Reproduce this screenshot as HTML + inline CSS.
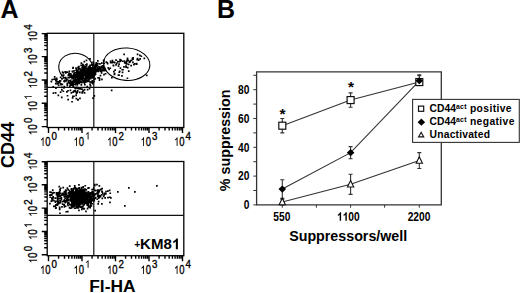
<!DOCTYPE html>
<html><head><meta charset="utf-8"><style>
html,body{margin:0;padding:0;background:#fff;width:520px;height:293px;overflow:hidden}
svg{display:block}
text{font-family:"Liberation Sans", sans-serif;fill:#000}
</style></head><body>
<svg width="520" height="293" viewBox="0 0 520 293">
<rect x="47.2" y="33.3" width="136.60" height="94.20" fill="none" stroke="#000" stroke-width="1.3"/>
<line x1="93.8" y1="33.3" x2="93.8" y2="127.5" stroke="#111" stroke-width="1.2"/>
<line x1="47.2" y1="87.4" x2="183.8" y2="87.4" stroke="#111" stroke-width="1.2"/>
<path d="M48.50 127.5v5.5 M47.2 126.60h-5.5 M58.58 127.5v3.0 M47.2 119.58h-3.0 M64.48 127.5v3.0 M47.2 115.47h-3.0 M68.67 127.5v3.0 M47.2 112.56h-3.0 M71.92 127.5v3.0 M47.2 110.30h-3.0 M74.57 127.5v3.0 M47.2 108.45h-3.0 M76.81 127.5v3.0 M47.2 106.89h-3.0 M78.75 127.5v3.0 M47.2 105.54h-3.0 M80.47 127.5v3.0 M47.2 104.34h-3.0 M82.00 127.5v5.5 M47.2 103.27h-5.5 M92.08 127.5v3.0 M47.2 96.25h-3.0 M97.98 127.5v3.0 M47.2 92.15h-3.0 M102.17 127.5v3.0 M47.2 89.23h-3.0 M105.42 127.5v3.0 M47.2 86.97h-3.0 M108.07 127.5v3.0 M47.2 85.12h-3.0 M110.31 127.5v3.0 M47.2 83.56h-3.0 M112.25 127.5v3.0 M47.2 82.21h-3.0 M113.97 127.5v3.0 M47.2 81.02h-3.0 M115.50 127.5v5.5 M47.2 79.95h-5.5 M125.58 127.5v3.0 M47.2 72.93h-3.0 M131.48 127.5v3.0 M47.2 68.82h-3.0 M135.67 127.5v3.0 M47.2 65.91h-3.0 M138.92 127.5v3.0 M47.2 63.65h-3.0 M141.57 127.5v3.0 M47.2 61.80h-3.0 M143.81 127.5v3.0 M47.2 60.24h-3.0 M145.75 127.5v3.0 M47.2 58.89h-3.0 M147.47 127.5v3.0 M47.2 57.69h-3.0 M149.00 127.5v5.5 M47.2 56.62h-5.5 M159.08 127.5v3.0 M47.2 49.60h-3.0 M164.98 127.5v3.0 M47.2 45.50h-3.0 M169.17 127.5v3.0 M47.2 42.58h-3.0 M172.42 127.5v3.0 M47.2 40.32h-3.0 M175.07 127.5v3.0 M47.2 38.47h-3.0 M177.31 127.5v3.0 M47.2 36.91h-3.0 M179.25 127.5v3.0 M47.2 35.56h-3.0 M180.97 127.5v3.0 M47.2 34.37h-3.0 M182.5 127.5v5.5 M47.2 33.599999999999994h-5.5" stroke="#000" stroke-width="1.4" fill="none"/>
<path d="M85.4 74.9h1.7v1.7h-1.7zM82.1 69.9h1.7v1.7h-1.7zM80.9 69.8h1.7v1.7h-1.7zM87.3 79.5h1.7v1.7h-1.7zM81.2 71.6h1.7v1.7h-1.7zM88.4 74.2h1.7v1.7h-1.7zM84.3 69.0h1.7v1.7h-1.7zM85.8 76.7h1.7v1.7h-1.7zM76.4 73.9h1.7v1.7h-1.7zM71.9 71.1h1.7v1.7h-1.7zM73.8 75.8h1.7v1.7h-1.7zM77.9 77.1h1.7v1.7h-1.7zM85.7 72.4h1.7v1.7h-1.7zM69.3 75.6h1.7v1.7h-1.7zM84.9 74.1h1.7v1.7h-1.7zM75.3 74.1h1.7v1.7h-1.7zM78.1 71.6h1.7v1.7h-1.7zM90.1 67.9h1.7v1.7h-1.7zM86.1 77.6h1.7v1.7h-1.7zM81.4 74.1h1.7v1.7h-1.7zM85.7 73.6h1.7v1.7h-1.7zM77.9 76.1h1.7v1.7h-1.7zM90.9 63.9h1.7v1.7h-1.7zM90.3 72.5h1.7v1.7h-1.7zM84.0 83.8h1.7v1.7h-1.7zM87.8 66.6h1.7v1.7h-1.7zM86.3 76.0h1.7v1.7h-1.7zM84.9 77.0h1.7v1.7h-1.7zM85.6 76.7h1.7v1.7h-1.7zM92.6 67.8h1.7v1.7h-1.7zM85.5 71.0h1.7v1.7h-1.7zM84.1 67.8h1.7v1.7h-1.7zM81.3 73.7h1.7v1.7h-1.7zM91.9 77.1h1.7v1.7h-1.7zM76.0 72.3h1.7v1.7h-1.7zM86.0 63.2h1.7v1.7h-1.7zM82.1 73.9h1.7v1.7h-1.7zM93.4 74.4h1.7v1.7h-1.7zM82.5 72.4h1.7v1.7h-1.7zM85.7 80.9h1.7v1.7h-1.7zM82.0 72.9h1.7v1.7h-1.7zM86.9 72.3h1.7v1.7h-1.7zM82.3 68.8h1.7v1.7h-1.7zM84.3 71.5h1.7v1.7h-1.7zM92.8 74.4h1.7v1.7h-1.7zM85.8 76.6h1.7v1.7h-1.7zM84.5 78.9h1.7v1.7h-1.7zM85.8 76.2h1.7v1.7h-1.7zM77.8 77.5h1.7v1.7h-1.7zM72.1 67.3h1.7v1.7h-1.7zM81.9 69.9h1.7v1.7h-1.7zM89.2 83.5h1.7v1.7h-1.7zM79.2 72.2h1.7v1.7h-1.7zM86.9 75.4h1.7v1.7h-1.7zM83.7 72.9h1.7v1.7h-1.7zM89.9 74.6h1.7v1.7h-1.7zM78.8 75.0h1.7v1.7h-1.7zM83.7 68.6h1.7v1.7h-1.7zM85.3 69.1h1.7v1.7h-1.7zM91.0 72.6h1.7v1.7h-1.7zM84.7 70.6h1.7v1.7h-1.7zM81.5 64.6h1.7v1.7h-1.7zM78.8 77.2h1.7v1.7h-1.7zM73.6 81.3h1.7v1.7h-1.7zM75.7 80.2h1.7v1.7h-1.7zM81.1 78.6h1.7v1.7h-1.7zM83.6 66.2h1.7v1.7h-1.7zM94.4 77.8h1.7v1.7h-1.7zM84.2 72.4h1.7v1.7h-1.7zM82.7 69.3h1.7v1.7h-1.7zM90.7 69.0h1.7v1.7h-1.7zM83.6 70.0h1.7v1.7h-1.7zM79.5 68.8h1.7v1.7h-1.7zM92.2 70.5h1.7v1.7h-1.7zM90.7 71.8h1.7v1.7h-1.7zM80.4 73.3h1.7v1.7h-1.7zM81.7 74.6h1.7v1.7h-1.7zM82.4 72.8h1.7v1.7h-1.7zM75.7 72.3h1.7v1.7h-1.7zM93.8 67.4h1.7v1.7h-1.7zM79.2 77.0h1.7v1.7h-1.7zM91.3 64.3h1.7v1.7h-1.7zM82.9 71.0h1.7v1.7h-1.7zM75.6 80.1h1.7v1.7h-1.7zM85.0 73.9h1.7v1.7h-1.7zM81.2 77.0h1.7v1.7h-1.7zM81.6 73.8h1.7v1.7h-1.7zM76.7 70.0h1.7v1.7h-1.7zM92.2 68.7h1.7v1.7h-1.7zM86.7 72.8h1.7v1.7h-1.7zM81.7 72.0h1.7v1.7h-1.7zM88.3 71.0h1.7v1.7h-1.7zM84.1 73.9h1.7v1.7h-1.7zM92.9 74.5h1.7v1.7h-1.7zM86.5 70.2h1.7v1.7h-1.7zM78.2 80.4h1.7v1.7h-1.7zM90.5 71.1h1.7v1.7h-1.7zM89.3 76.1h1.7v1.7h-1.7zM91.2 76.2h1.7v1.7h-1.7zM84.5 81.3h1.7v1.7h-1.7zM78.8 79.7h1.7v1.7h-1.7zM89.2 76.6h1.7v1.7h-1.7zM98.2 76.9h1.7v1.7h-1.7zM75.8 67.9h1.7v1.7h-1.7zM88.4 67.3h1.7v1.7h-1.7zM86.1 77.4h1.7v1.7h-1.7zM72.3 66.8h1.7v1.7h-1.7zM86.6 73.2h1.7v1.7h-1.7zM83.6 74.1h1.7v1.7h-1.7zM77.8 68.1h1.7v1.7h-1.7zM82.6 69.3h1.7v1.7h-1.7zM76.0 78.8h1.7v1.7h-1.7zM85.2 75.5h1.7v1.7h-1.7zM78.2 72.3h1.7v1.7h-1.7zM77.8 71.3h1.7v1.7h-1.7zM85.0 69.6h1.7v1.7h-1.7zM87.6 74.4h1.7v1.7h-1.7zM95.0 63.4h1.7v1.7h-1.7zM90.1 71.5h1.7v1.7h-1.7zM82.9 66.9h1.7v1.7h-1.7zM83.3 77.8h1.7v1.7h-1.7zM84.6 74.0h1.7v1.7h-1.7zM84.9 79.3h1.7v1.7h-1.7zM81.8 63.4h1.7v1.7h-1.7zM78.1 65.7h1.7v1.7h-1.7zM65.0 77.0h1.7v1.7h-1.7zM93.0 71.3h1.7v1.7h-1.7zM76.7 71.3h1.7v1.7h-1.7zM91.9 72.2h1.7v1.7h-1.7zM85.2 73.2h1.7v1.7h-1.7zM86.4 77.1h1.7v1.7h-1.7zM88.6 73.5h1.7v1.7h-1.7zM79.5 77.8h1.7v1.7h-1.7zM82.5 79.8h1.7v1.7h-1.7zM77.3 75.2h1.7v1.7h-1.7zM83.1 67.4h1.7v1.7h-1.7zM97.3 77.0h1.7v1.7h-1.7zM83.3 77.9h1.7v1.7h-1.7zM83.5 60.8h1.7v1.7h-1.7zM86.4 72.8h1.7v1.7h-1.7zM84.0 68.4h1.7v1.7h-1.7zM83.2 73.2h1.7v1.7h-1.7zM92.5 72.9h1.7v1.7h-1.7zM87.1 80.5h1.7v1.7h-1.7zM81.2 72.7h1.7v1.7h-1.7zM76.5 84.0h1.7v1.7h-1.7zM92.0 75.9h1.7v1.7h-1.7zM89.1 72.8h1.7v1.7h-1.7zM85.9 71.9h1.7v1.7h-1.7zM83.9 74.1h1.7v1.7h-1.7zM94.7 73.3h1.7v1.7h-1.7zM83.8 71.0h1.7v1.7h-1.7zM83.5 82.0h1.7v1.7h-1.7zM88.1 72.9h1.7v1.7h-1.7zM81.4 69.0h1.7v1.7h-1.7zM85.8 77.6h1.7v1.7h-1.7zM82.4 73.2h1.7v1.7h-1.7zM83.8 74.4h1.7v1.7h-1.7zM75.2 75.3h1.7v1.7h-1.7zM81.2 79.1h1.7v1.7h-1.7zM81.3 77.6h1.7v1.7h-1.7zM93.6 69.3h1.7v1.7h-1.7zM81.7 75.5h1.7v1.7h-1.7zM83.6 68.9h1.7v1.7h-1.7zM90.6 81.9h1.7v1.7h-1.7zM83.2 73.0h1.7v1.7h-1.7zM79.3 76.9h1.7v1.7h-1.7zM76.0 70.7h1.7v1.7h-1.7zM91.3 67.0h1.7v1.7h-1.7zM93.6 78.5h1.7v1.7h-1.7zM87.3 75.6h1.7v1.7h-1.7zM96.3 69.0h1.7v1.7h-1.7zM79.6 68.4h1.7v1.7h-1.7zM87.3 80.2h1.7v1.7h-1.7zM89.3 67.4h1.7v1.7h-1.7zM79.2 72.8h1.7v1.7h-1.7zM86.4 72.0h1.7v1.7h-1.7zM86.7 74.5h1.7v1.7h-1.7zM83.2 73.9h1.7v1.7h-1.7zM86.1 72.7h1.7v1.7h-1.7zM90.6 81.2h1.7v1.7h-1.7zM88.6 72.7h1.7v1.7h-1.7zM75.6 78.4h1.7v1.7h-1.7zM71.5 70.6h1.7v1.7h-1.7zM91.1 75.2h1.7v1.7h-1.7zM81.7 65.9h1.7v1.7h-1.7zM81.8 71.1h1.7v1.7h-1.7zM92.0 82.7h1.7v1.7h-1.7zM85.2 69.5h1.7v1.7h-1.7zM78.0 75.4h1.7v1.7h-1.7zM82.3 68.5h1.7v1.7h-1.7zM84.1 68.0h1.7v1.7h-1.7zM93.1 76.3h1.7v1.7h-1.7zM90.8 69.3h1.7v1.7h-1.7zM87.9 72.0h1.7v1.7h-1.7zM82.2 72.7h1.7v1.7h-1.7zM75.3 69.3h1.7v1.7h-1.7zM89.4 71.2h1.7v1.7h-1.7zM87.7 77.7h1.7v1.7h-1.7zM73.6 73.1h1.7v1.7h-1.7zM86.6 75.0h1.7v1.7h-1.7zM84.2 78.9h1.7v1.7h-1.7zM84.5 67.6h1.7v1.7h-1.7zM80.6 78.9h1.7v1.7h-1.7zM85.1 63.9h1.7v1.7h-1.7zM93.8 73.8h1.7v1.7h-1.7zM92.4 69.3h1.7v1.7h-1.7zM81.7 68.9h1.7v1.7h-1.7zM99.8 68.0h1.7v1.7h-1.7zM93.5 67.6h1.7v1.7h-1.7zM83.6 65.5h1.7v1.7h-1.7zM84.1 78.7h1.7v1.7h-1.7zM79.1 80.7h1.7v1.7h-1.7zM85.5 68.1h1.7v1.7h-1.7zM81.4 72.3h1.7v1.7h-1.7zM83.9 71.1h1.7v1.7h-1.7zM79.7 73.6h1.7v1.7h-1.7zM77.1 69.5h1.7v1.7h-1.7zM86.0 77.6h1.7v1.7h-1.7zM75.9 76.3h1.7v1.7h-1.7zM79.8 70.2h1.7v1.7h-1.7zM89.3 69.6h1.7v1.7h-1.7zM92.8 67.2h1.7v1.7h-1.7zM87.0 71.7h1.7v1.7h-1.7zM81.4 77.6h1.7v1.7h-1.7zM84.9 76.6h1.7v1.7h-1.7zM83.2 68.6h1.7v1.7h-1.7zM84.5 73.9h1.7v1.7h-1.7zM89.4 67.6h1.7v1.7h-1.7zM82.3 65.7h1.7v1.7h-1.7zM87.3 67.3h1.7v1.7h-1.7zM74.2 76.5h1.7v1.7h-1.7zM89.4 64.5h1.7v1.7h-1.7zM77.5 72.1h1.7v1.7h-1.7zM78.8 77.3h1.7v1.7h-1.7zM79.2 71.7h1.7v1.7h-1.7zM87.4 69.0h1.7v1.7h-1.7zM86.2 68.3h1.7v1.7h-1.7zM75.2 67.3h1.7v1.7h-1.7zM95.6 68.6h1.7v1.7h-1.7zM86.4 72.9h1.7v1.7h-1.7zM86.0 73.4h1.7v1.7h-1.7zM94.8 65.2h1.7v1.7h-1.7zM74.3 71.7h1.7v1.7h-1.7zM78.2 79.4h1.7v1.7h-1.7zM88.5 67.6h1.7v1.7h-1.7zM76.3 74.4h1.7v1.7h-1.7zM89.2 58.0h1.7v1.7h-1.7zM86.6 67.6h1.7v1.7h-1.7zM89.6 66.7h1.7v1.7h-1.7zM81.2 67.1h1.7v1.7h-1.7zM81.2 81.6h1.7v1.7h-1.7zM89.3 70.2h1.7v1.7h-1.7zM77.2 66.4h1.7v1.7h-1.7zM82.6 74.1h1.7v1.7h-1.7zM84.4 73.2h1.7v1.7h-1.7zM78.3 75.3h1.7v1.7h-1.7zM86.6 79.5h1.7v1.7h-1.7zM95.9 69.5h1.7v1.7h-1.7zM80.4 74.6h1.7v1.7h-1.7zM80.3 71.2h1.7v1.7h-1.7zM83.2 68.8h1.7v1.7h-1.7zM88.4 71.9h1.7v1.7h-1.7zM86.2 72.2h1.7v1.7h-1.7zM79.3 70.5h1.7v1.7h-1.7zM82.8 71.4h1.7v1.7h-1.7zM86.4 73.1h1.7v1.7h-1.7zM77.0 76.3h1.7v1.7h-1.7zM76.2 73.1h1.7v1.7h-1.7zM80.3 64.5h1.7v1.7h-1.7zM85.8 74.0h1.7v1.7h-1.7zM83.5 71.8h1.7v1.7h-1.7zM81.4 69.7h1.7v1.7h-1.7zM82.6 71.5h1.7v1.7h-1.7zM83.8 67.8h1.7v1.7h-1.7zM86.6 73.7h1.7v1.7h-1.7zM83.5 71.7h1.7v1.7h-1.7zM85.9 64.9h1.7v1.7h-1.7zM88.1 73.8h1.7v1.7h-1.7zM87.2 74.7h1.7v1.7h-1.7zM80.8 73.5h1.7v1.7h-1.7zM89.4 74.3h1.7v1.7h-1.7zM84.1 66.2h1.7v1.7h-1.7zM89.8 77.9h1.7v1.7h-1.7zM91.3 72.7h1.7v1.7h-1.7zM77.1 80.7h1.7v1.7h-1.7zM80.5 62.2h1.7v1.7h-1.7zM85.1 66.0h1.7v1.7h-1.7zM76.4 73.0h1.7v1.7h-1.7zM92.0 69.5h1.7v1.7h-1.7zM89.1 81.0h1.7v1.7h-1.7zM94.3 70.1h1.7v1.7h-1.7zM81.8 68.2h1.7v1.7h-1.7zM81.5 76.7h1.7v1.7h-1.7zM87.5 73.3h1.7v1.7h-1.7zM89.8 68.1h1.7v1.7h-1.7zM85.7 77.0h1.7v1.7h-1.7zM90.0 77.3h1.7v1.7h-1.7zM86.9 71.4h1.7v1.7h-1.7zM85.7 68.2h1.7v1.7h-1.7zM76.1 79.2h1.7v1.7h-1.7zM85.1 75.0h1.7v1.7h-1.7zM74.4 74.9h1.7v1.7h-1.7zM80.2 70.6h1.7v1.7h-1.7zM71.2 76.1h1.7v1.7h-1.7zM90.9 73.6h1.7v1.7h-1.7zM81.4 74.5h1.7v1.7h-1.7zM85.6 59.5h1.7v1.7h-1.7zM85.0 76.2h1.7v1.7h-1.7zM91.5 80.0h1.7v1.7h-1.7zM92.2 72.9h1.7v1.7h-1.7zM87.9 76.6h1.7v1.7h-1.7zM81.7 74.3h1.7v1.7h-1.7zM93.1 80.8h1.7v1.7h-1.7zM84.0 73.6h1.7v1.7h-1.7zM88.1 79.3h1.7v1.7h-1.7zM86.9 80.3h1.7v1.7h-1.7zM79.0 74.4h1.7v1.7h-1.7zM84.9 77.5h1.7v1.7h-1.7zM89.1 64.7h1.7v1.7h-1.7zM80.1 76.7h1.7v1.7h-1.7zM78.9 67.7h1.7v1.7h-1.7zM91.9 73.9h1.7v1.7h-1.7zM87.2 70.4h1.7v1.7h-1.7zM90.8 70.5h1.7v1.7h-1.7zM90.2 67.3h1.7v1.7h-1.7zM80.2 76.0h1.7v1.7h-1.7zM81.8 77.9h1.7v1.7h-1.7zM85.2 68.8h1.7v1.7h-1.7zM84.9 71.8h1.7v1.7h-1.7zM89.5 68.9h1.7v1.7h-1.7zM84.1 79.9h1.7v1.7h-1.7zM101.1 78.6h1.7v1.7h-1.7zM85.7 74.4h1.7v1.7h-1.7zM93.9 70.1h1.7v1.7h-1.7zM79.4 75.8h1.7v1.7h-1.7zM86.5 68.9h1.7v1.7h-1.7zM73.2 69.9h1.7v1.7h-1.7zM87.9 68.8h1.7v1.7h-1.7zM84.5 74.7h1.7v1.7h-1.7zM88.2 70.8h1.7v1.7h-1.7zM86.7 68.5h1.7v1.7h-1.7zM81.4 69.5h1.7v1.7h-1.7zM91.7 71.3h1.7v1.7h-1.7zM80.1 73.2h1.7v1.7h-1.7zM84.7 77.1h1.7v1.7h-1.7zM74.1 71.7h1.7v1.7h-1.7zM86.4 85.8h1.7v1.7h-1.7zM90.5 71.2h1.7v1.7h-1.7zM92.1 81.6h1.7v1.7h-1.7zM83.1 72.2h1.7v1.7h-1.7zM92.9 73.5h1.7v1.7h-1.7zM88.3 69.9h1.7v1.7h-1.7zM98.8 77.8h1.7v1.7h-1.7zM89.3 75.6h1.7v1.7h-1.7zM73.9 80.1h1.7v1.7h-1.7zM84.5 75.8h1.7v1.7h-1.7zM88.6 70.7h1.7v1.7h-1.7zM75.5 78.3h1.7v1.7h-1.7zM80.1 73.3h1.7v1.7h-1.7zM80.9 73.0h1.7v1.7h-1.7zM73.0 83.3h1.7v1.7h-1.7zM88.1 78.1h1.7v1.7h-1.7zM96.8 70.0h1.7v1.7h-1.7zM73.1 72.7h1.7v1.7h-1.7zM77.1 73.4h1.7v1.7h-1.7zM82.6 64.2h1.7v1.7h-1.7zM84.9 65.9h1.7v1.7h-1.7zM86.6 72.5h1.7v1.7h-1.7zM83.0 73.7h1.7v1.7h-1.7zM80.9 71.7h1.7v1.7h-1.7zM75.0 76.4h1.7v1.7h-1.7zM98.7 79.2h1.7v1.7h-1.7zM93.8 74.3h1.7v1.7h-1.7zM83.0 81.4h1.7v1.7h-1.7zM84.6 73.3h1.7v1.7h-1.7zM83.4 74.5h1.7v1.7h-1.7zM82.3 73.9h1.7v1.7h-1.7zM78.0 73.8h1.7v1.7h-1.7zM98.4 69.0h1.7v1.7h-1.7zM70.2 82.7h1.7v1.7h-1.7zM77.6 74.1h1.7v1.7h-1.7zM70.8 84.4h1.7v1.7h-1.7zM74.5 80.2h1.7v1.7h-1.7zM85.4 74.9h1.7v1.7h-1.7zM72.4 77.6h1.7v1.7h-1.7zM83.9 69.3h1.7v1.7h-1.7zM65.7 78.5h1.7v1.7h-1.7zM78.3 81.8h1.7v1.7h-1.7zM83.4 71.1h1.7v1.7h-1.7zM78.5 77.7h1.7v1.7h-1.7zM66.4 83.3h1.7v1.7h-1.7zM62.4 72.0h1.7v1.7h-1.7zM67.7 73.8h1.7v1.7h-1.7zM66.5 82.5h1.7v1.7h-1.7zM75.8 86.6h1.7v1.7h-1.7zM69.2 73.4h1.7v1.7h-1.7zM64.7 76.9h1.7v1.7h-1.7zM61.5 83.6h1.7v1.7h-1.7zM64.9 72.1h1.7v1.7h-1.7zM78.1 78.6h1.7v1.7h-1.7zM75.2 80.0h1.7v1.7h-1.7zM77.6 79.3h1.7v1.7h-1.7zM83.3 80.2h1.7v1.7h-1.7zM75.8 81.3h1.7v1.7h-1.7zM58.9 81.2h1.7v1.7h-1.7zM69.8 81.3h1.7v1.7h-1.7zM61.0 89.1h1.7v1.7h-1.7zM72.1 74.5h1.7v1.7h-1.7zM56.6 81.0h1.7v1.7h-1.7zM70.7 76.9h1.7v1.7h-1.7zM72.4 77.0h1.7v1.7h-1.7zM76.4 76.0h1.7v1.7h-1.7zM72.3 84.4h1.7v1.7h-1.7zM94.2 72.1h1.7v1.7h-1.7zM67.3 76.9h1.7v1.7h-1.7zM78.2 73.8h1.7v1.7h-1.7zM67.7 80.5h1.7v1.7h-1.7zM62.6 77.1h1.7v1.7h-1.7zM66.4 71.3h1.7v1.7h-1.7zM58.9 80.1h1.7v1.7h-1.7zM73.2 79.0h1.7v1.7h-1.7zM55.9 80.3h1.7v1.7h-1.7zM79.5 81.4h1.7v1.7h-1.7zM70.7 76.2h1.7v1.7h-1.7zM77.2 76.6h1.7v1.7h-1.7zM61.1 78.0h1.7v1.7h-1.7zM85.0 79.0h1.7v1.7h-1.7zM82.0 76.3h1.7v1.7h-1.7zM79.9 76.1h1.7v1.7h-1.7zM72.3 91.3h1.7v1.7h-1.7zM78.5 76.7h1.7v1.7h-1.7zM71.5 81.6h1.7v1.7h-1.7zM82.4 76.2h1.7v1.7h-1.7zM56.3 81.1h1.7v1.7h-1.7zM72.2 80.5h1.7v1.7h-1.7zM83.9 79.6h1.7v1.7h-1.7zM78.5 74.0h1.7v1.7h-1.7zM81.1 88.2h1.7v1.7h-1.7zM79.0 80.1h1.7v1.7h-1.7zM74.6 87.7h1.7v1.7h-1.7zM63.7 80.8h1.7v1.7h-1.7zM76.6 82.7h1.7v1.7h-1.7zM68.3 82.0h1.7v1.7h-1.7zM69.6 80.9h1.7v1.7h-1.7zM70.1 75.1h1.7v1.7h-1.7zM72.4 83.9h1.7v1.7h-1.7zM63.2 80.2h1.7v1.7h-1.7zM77.2 74.3h1.7v1.7h-1.7zM72.9 75.0h1.7v1.7h-1.7zM83.7 88.8h1.7v1.7h-1.7zM89.8 76.3h1.7v1.7h-1.7zM78.7 79.5h1.7v1.7h-1.7zM73.9 86.7h1.7v1.7h-1.7zM61.0 86.5h1.7v1.7h-1.7zM72.5 86.3h1.7v1.7h-1.7zM73.2 76.8h1.7v1.7h-1.7zM75.0 82.9h1.7v1.7h-1.7zM72.6 82.1h1.7v1.7h-1.7zM65.9 71.2h1.7v1.7h-1.7zM80.5 81.9h1.7v1.7h-1.7zM73.4 80.1h1.7v1.7h-1.7zM80.9 76.6h1.7v1.7h-1.7zM65.6 80.1h1.7v1.7h-1.7zM81.6 72.2h1.7v1.7h-1.7zM82.2 75.6h1.7v1.7h-1.7zM63.1 87.1h1.7v1.7h-1.7zM70.3 74.3h1.7v1.7h-1.7zM69.4 84.6h1.7v1.7h-1.7zM82.3 76.5h1.7v1.7h-1.7zM76.1 82.6h1.7v1.7h-1.7zM66.5 82.4h1.7v1.7h-1.7zM71.4 77.7h1.7v1.7h-1.7zM67.7 81.0h1.7v1.7h-1.7zM71.9 77.4h1.7v1.7h-1.7zM69.0 85.5h1.7v1.7h-1.7zM74.5 83.7h1.7v1.7h-1.7zM83.1 81.0h1.7v1.7h-1.7zM91.7 73.3h1.7v1.7h-1.7zM79.0 77.5h1.7v1.7h-1.7zM89.7 85.1h1.7v1.7h-1.7zM54.0 78.3h1.7v1.7h-1.7zM78.4 82.6h1.7v1.7h-1.7zM78.5 78.7h1.7v1.7h-1.7zM76.5 82.3h1.7v1.7h-1.7zM72.0 84.7h1.7v1.7h-1.7zM52.3 85.9h1.7v1.7h-1.7zM63.4 85.7h1.7v1.7h-1.7zM69.4 76.4h1.7v1.7h-1.7zM74.7 75.4h1.7v1.7h-1.7zM62.8 74.3h1.7v1.7h-1.7zM72.1 82.2h1.7v1.7h-1.7zM81.0 78.0h1.7v1.7h-1.7zM81.3 78.7h1.7v1.7h-1.7zM71.6 82.7h1.7v1.7h-1.7zM81.2 77.1h1.7v1.7h-1.7zM69.7 79.6h1.7v1.7h-1.7zM72.1 75.9h1.7v1.7h-1.7zM80.9 76.8h1.7v1.7h-1.7zM75.6 75.7h1.7v1.7h-1.7zM75.5 81.3h1.7v1.7h-1.7zM69.6 89.6h1.7v1.7h-1.7zM76.5 87.4h1.7v1.7h-1.7zM80.1 75.8h1.7v1.7h-1.7zM68.9 82.5h1.7v1.7h-1.7zM72.6 80.1h1.7v1.7h-1.7zM68.2 72.3h1.7v1.7h-1.7zM68.5 70.4h1.7v1.7h-1.7zM74.8 76.3h1.7v1.7h-1.7zM65.5 80.0h1.7v1.7h-1.7zM73.5 73.3h1.7v1.7h-1.7zM55.7 77.6h1.7v1.7h-1.7zM53.2 78.4h1.7v1.7h-1.7zM85.4 73.2h1.7v1.7h-1.7zM76.9 73.0h1.7v1.7h-1.7zM74.4 78.2h1.7v1.7h-1.7zM71.9 82.6h1.7v1.7h-1.7zM87.8 78.5h1.7v1.7h-1.7zM72.5 75.5h1.7v1.7h-1.7zM77.0 78.1h1.7v1.7h-1.7zM79.4 78.7h1.7v1.7h-1.7zM86.2 68.8h1.7v1.7h-1.7zM70.0 84.3h1.7v1.7h-1.7zM68.3 76.9h1.7v1.7h-1.7zM68.7 74.2h1.7v1.7h-1.7zM74.7 90.7h1.7v1.7h-1.7zM81.4 73.5h1.7v1.7h-1.7zM64.0 79.4h1.7v1.7h-1.7zM80.4 75.0h1.7v1.7h-1.7zM66.5 84.9h1.7v1.7h-1.7zM79.4 77.2h1.7v1.7h-1.7zM61.0 74.6h1.7v1.7h-1.7zM64.3 71.0h1.7v1.7h-1.7zM78.2 76.2h1.7v1.7h-1.7zM77.5 87.7h1.7v1.7h-1.7zM81.7 73.3h1.7v1.7h-1.7zM80.5 84.0h1.7v1.7h-1.7zM64.7 76.8h1.7v1.7h-1.7zM69.9 73.0h1.7v1.7h-1.7zM83.5 67.3h1.7v1.7h-1.7zM50.5 80.7h1.7v1.7h-1.7zM54.9 82.8h1.7v1.7h-1.7zM57.4 80.9h1.7v1.7h-1.7zM61.7 71.3h1.7v1.7h-1.7zM56.0 78.4h1.7v1.7h-1.7zM56.7 83.1h1.7v1.7h-1.7zM51.4 78.8h1.7v1.7h-1.7zM60.0 83.7h1.7v1.7h-1.7zM52.6 92.2h1.7v1.7h-1.7zM67.5 74.7h1.7v1.7h-1.7zM57.5 94.5h1.7v1.7h-1.7zM59.9 83.1h1.7v1.7h-1.7zM55.0 79.3h1.7v1.7h-1.7zM54.9 79.2h1.7v1.7h-1.7zM59.7 80.0h1.7v1.7h-1.7zM53.8 76.0h1.7v1.7h-1.7zM55.8 77.5h1.7v1.7h-1.7zM55.1 87.2h1.7v1.7h-1.7zM57.8 84.5h1.7v1.7h-1.7zM57.8 82.3h1.7v1.7h-1.7zM55.4 80.5h1.7v1.7h-1.7zM59.8 76.6h1.7v1.7h-1.7zM102.9 66.4h1.7v1.7h-1.7zM93.4 66.7h1.7v1.7h-1.7zM94.1 68.6h1.7v1.7h-1.7zM94.5 71.5h1.7v1.7h-1.7zM92.2 61.5h1.7v1.7h-1.7zM92.6 62.2h1.7v1.7h-1.7zM97.5 70.6h1.7v1.7h-1.7zM99.1 63.0h1.7v1.7h-1.7zM94.7 73.4h1.7v1.7h-1.7zM98.4 67.2h1.7v1.7h-1.7zM103.1 73.8h1.7v1.7h-1.7zM102.8 66.8h1.7v1.7h-1.7zM98.9 69.0h1.7v1.7h-1.7zM93.7 64.9h1.7v1.7h-1.7zM96.7 64.7h1.7v1.7h-1.7zM96.8 67.8h1.7v1.7h-1.7zM106.8 62.9h1.7v1.7h-1.7zM96.4 67.1h1.7v1.7h-1.7zM99.6 70.2h1.7v1.7h-1.7zM94.3 65.5h1.7v1.7h-1.7zM89.2 66.2h1.7v1.7h-1.7zM99.4 67.2h1.7v1.7h-1.7zM92.3 67.3h1.7v1.7h-1.7zM97.4 69.0h1.7v1.7h-1.7zM94.2 67.3h1.7v1.7h-1.7zM88.3 65.7h1.7v1.7h-1.7zM102.8 59.6h1.7v1.7h-1.7zM95.6 68.4h1.7v1.7h-1.7zM94.9 65.5h1.7v1.7h-1.7zM96.7 67.5h1.7v1.7h-1.7zM95.5 62.1h1.7v1.7h-1.7zM95.8 65.1h1.7v1.7h-1.7zM94.7 68.7h1.7v1.7h-1.7zM100.4 69.6h1.7v1.7h-1.7zM95.4 70.7h1.7v1.7h-1.7zM102.9 69.8h1.7v1.7h-1.7zM103.0 65.8h1.7v1.7h-1.7zM96.7 70.1h1.7v1.7h-1.7zM91.1 69.3h1.7v1.7h-1.7zM94.4 66.9h1.7v1.7h-1.7zM88.8 66.4h1.7v1.7h-1.7zM97.4 70.1h1.7v1.7h-1.7zM101.3 66.4h1.7v1.7h-1.7zM95.7 65.2h1.7v1.7h-1.7zM98.6 66.4h1.7v1.7h-1.7zM100.7 72.1h1.7v1.7h-1.7zM96.0 63.1h1.7v1.7h-1.7zM92.3 64.0h1.7v1.7h-1.7zM92.5 72.4h1.7v1.7h-1.7zM97.1 62.8h1.7v1.7h-1.7zM100.6 70.6h1.7v1.7h-1.7zM95.0 65.8h1.7v1.7h-1.7zM95.7 68.6h1.7v1.7h-1.7zM100.5 70.4h1.7v1.7h-1.7zM103.1 69.9h1.7v1.7h-1.7zM103.4 68.2h1.7v1.7h-1.7zM90.2 68.5h1.7v1.7h-1.7zM98.2 66.1h1.7v1.7h-1.7zM100.8 65.6h1.7v1.7h-1.7zM93.8 72.6h1.7v1.7h-1.7zM100.1 67.5h1.7v1.7h-1.7zM101.7 69.8h1.7v1.7h-1.7zM97.0 60.0h1.7v1.7h-1.7zM93.7 66.8h1.7v1.7h-1.7zM92.8 69.0h1.7v1.7h-1.7zM102.0 65.0h1.7v1.7h-1.7zM93.2 74.5h1.7v1.7h-1.7zM94.3 64.3h1.7v1.7h-1.7zM98.3 68.5h1.7v1.7h-1.7zM94.4 70.5h1.7v1.7h-1.7zM125.1 61.4h1.7v1.7h-1.7zM140.5 55.4h1.7v1.7h-1.7zM102.8 65.3h1.7v1.7h-1.7zM139.3 58.0h1.7v1.7h-1.7zM126.9 66.8h1.7v1.7h-1.7zM133.0 63.7h1.7v1.7h-1.7zM125.7 61.1h1.7v1.7h-1.7zM135.8 62.8h1.7v1.7h-1.7zM111.3 61.7h1.7v1.7h-1.7zM127.3 59.6h1.7v1.7h-1.7zM109.4 67.4h1.7v1.7h-1.7zM119.2 58.7h1.7v1.7h-1.7zM126.1 60.0h1.7v1.7h-1.7zM105.5 61.2h1.7v1.7h-1.7zM100.2 66.8h1.7v1.7h-1.7zM130.3 64.8h1.7v1.7h-1.7zM131.6 57.5h1.7v1.7h-1.7zM125.2 61.7h1.7v1.7h-1.7zM112.0 61.4h1.7v1.7h-1.7zM126.7 57.6h1.7v1.7h-1.7zM103.4 62.5h1.7v1.7h-1.7zM125.1 65.4h1.7v1.7h-1.7zM122.2 68.9h1.7v1.7h-1.7zM125.4 62.9h1.7v1.7h-1.7zM117.0 60.8h1.7v1.7h-1.7zM107.4 67.1h1.7v1.7h-1.7zM130.8 59.5h1.7v1.7h-1.7zM117.7 65.2h1.7v1.7h-1.7zM129.0 61.2h1.7v1.7h-1.7zM112.5 64.6h1.7v1.7h-1.7zM102.1 68.0h1.7v1.7h-1.7zM121.6 60.4h1.7v1.7h-1.7zM123.5 60.2h1.7v1.7h-1.7zM136.7 53.5h1.7v1.7h-1.7zM136.7 57.7h1.7v1.7h-1.7zM101.0 62.2h1.7v1.7h-1.7zM130.6 59.6h1.7v1.7h-1.7zM109.8 61.8h1.7v1.7h-1.7zM128.5 61.0h1.7v1.7h-1.7zM112.7 64.9h1.7v1.7h-1.7zM111.6 59.8h1.7v1.7h-1.7zM119.4 60.2h1.7v1.7h-1.7zM120.3 59.4h1.7v1.7h-1.7zM125.9 63.0h1.7v1.7h-1.7zM125.2 66.4h1.7v1.7h-1.7zM127.8 63.5h1.7v1.7h-1.7zM115.9 62.5h1.7v1.7h-1.7zM125.2 65.3h1.7v1.7h-1.7zM115.2 59.3h1.7v1.7h-1.7zM123.1 66.0h1.7v1.7h-1.7zM118.6 60.9h1.7v1.7h-1.7zM123.3 53.6h1.7v1.7h-1.7zM99.6 74.8h1.7v1.7h-1.7zM119.6 67.2h1.7v1.7h-1.7zM106.4 61.9h1.7v1.7h-1.7zM115.2 64.0h1.7v1.7h-1.7zM100.5 65.7h1.7v1.7h-1.7zM124.0 61.4h1.7v1.7h-1.7zM139.0 54.5h1.7v1.7h-1.7zM113.9 61.8h1.7v1.7h-1.7zM104.2 67.5h1.7v1.7h-1.7zM123.9 62.1h1.7v1.7h-1.7zM104.8 69.5h1.7v1.7h-1.7zM137.8 59.2h1.7v1.7h-1.7zM104.7 72.9h1.7v1.7h-1.7zM113.5 61.6h1.7v1.7h-1.7zM118.2 63.3h1.7v1.7h-1.7zM102.9 60.2h1.7v1.7h-1.7zM109.7 60.4h1.7v1.7h-1.7zM108.3 68.5h1.7v1.7h-1.7zM113.5 73.6h1.7v1.7h-1.7zM121.4 68.9h1.7v1.7h-1.7zM118.9 70.5h1.7v1.7h-1.7zM117.6 74.3h1.7v1.7h-1.7zM127.9 70.3h1.7v1.7h-1.7zM113.8 72.8h1.7v1.7h-1.7zM121.1 75.1h1.7v1.7h-1.7zM145.9 74.5h1.7v1.7h-1.7zM121.7 71.5h1.7v1.7h-1.7zM114.3 69.3h1.7v1.7h-1.7zM113.0 70.8h1.7v1.7h-1.7zM118.2 74.2h1.7v1.7h-1.7zM118.4 71.4h1.7v1.7h-1.7zM111.0 76.9h1.7v1.7h-1.7zM126.6 77.4h1.7v1.7h-1.7zM134.0 63.0h1.7v1.7h-1.7zM128.8 61.4h1.7v1.7h-1.7zM143.5 57.6h1.7v1.7h-1.7zM135.9 63.4h1.7v1.7h-1.7zM132.1 61.5h1.7v1.7h-1.7zM136.4 58.7h1.7v1.7h-1.7zM132.1 58.2h1.7v1.7h-1.7zM126.5 58.7h1.7v1.7h-1.7zM129.3 60.3h1.7v1.7h-1.7zM132.3 57.1h1.7v1.7h-1.7zM92.2 97.3h1.7v1.7h-1.7zM81.9 90.4h1.7v1.7h-1.7zM75.3 94.5h1.7v1.7h-1.7zM60.9 96.6h1.7v1.7h-1.7zM79.0 91.5h1.7v1.7h-1.7zM77.3 98.8h1.7v1.7h-1.7zM74.4 90.1h1.7v1.7h-1.7zM76.9 89.9h1.7v1.7h-1.7zM88.7 87.8h1.7v1.7h-1.7zM81.5 91.5h1.7v1.7h-1.7zM54.8 92.0h1.7v1.7h-1.7zM67.2 89.9h1.7v1.7h-1.7zM67.3 98.7h1.7v1.7h-1.7zM77.0 99.1h1.7v1.7h-1.7zM78.7 87.9h1.7v1.7h-1.7zM75.5 97.7h1.7v1.7h-1.7zM83.7 92.0h1.7v1.7h-1.7zM76.4 91.5h1.7v1.7h-1.7zM71.2 100.9h1.7v1.7h-1.7zM72.1 95.4h1.7v1.7h-1.7zM81.3 91.4h1.7v1.7h-1.7zM70.5 92.1h1.7v1.7h-1.7zM82.6 89.8h1.7v1.7h-1.7zM79.1 97.6h1.7v1.7h-1.7zM81.3 92.1h1.7v1.7h-1.7zM93.5 95.1h1.7v1.7h-1.7zM73.1 95.4h1.7v1.7h-1.7zM79.4 88.0h1.7v1.7h-1.7zM76.6 91.2h1.7v1.7h-1.7zM59.8 91.2h1.7v1.7h-1.7zM73.7 90.0h1.7v1.7h-1.7zM62.5 90.4h1.7v1.7h-1.7zM75.7 92.5h1.7v1.7h-1.7zM66.7 94.9h1.7v1.7h-1.7zM66.0 91.0h1.7v1.7h-1.7zM86.7 88.8h1.7v1.7h-1.7zM71.8 97.0h1.7v1.7h-1.7zM72.8 90.6h1.7v1.7h-1.7zM110.8 89.6h1.7v1.7h-1.7z" fill="#000"/>
<g transform="translate(40.00,145.90) scale(0.79,1)" stroke="#000" stroke-width="0.35"><path transform="translate(0.00,0) scale(0.01200,-0.01200)" d="M372 0L281 0L281 560C259 539 230 518 195 497C160 476 130 461 106 452L106 537C156 561 199 590 236 623C273 656 299 687 314 716L372 716Z"/><text x="6.67" y="0" font-size="12.0">0</text></g>
<g transform="translate(51.40,139.50) scale(0.93,1)" stroke="#000" stroke-width="0.35"><text x="0.00" y="0" font-size="10.5">0</text></g>
<g transform="translate(73.50,145.90) scale(0.79,1)" stroke="#000" stroke-width="0.35"><path transform="translate(0.00,0) scale(0.01200,-0.01200)" d="M372 0L281 0L281 560C259 539 230 518 195 497C160 476 130 461 106 452L106 537C156 561 199 590 236 623C273 656 299 687 314 716L372 716Z"/><text x="6.67" y="0" font-size="12.0">0</text></g>
<g transform="translate(84.90,139.50) scale(0.93,1)" stroke="#000" stroke-width="0.35"><path transform="translate(0.00,0) scale(0.01050,-0.01050)" d="M372 0L281 0L281 560C259 539 230 518 195 497C160 476 130 461 106 452L106 537C156 561 199 590 236 623C273 656 299 687 314 716L372 716Z"/></g>
<g transform="translate(107.00,145.90) scale(0.79,1)" stroke="#000" stroke-width="0.35"><path transform="translate(0.00,0) scale(0.01200,-0.01200)" d="M372 0L281 0L281 560C259 539 230 518 195 497C160 476 130 461 106 452L106 537C156 561 199 590 236 623C273 656 299 687 314 716L372 716Z"/><text x="6.67" y="0" font-size="12.0">0</text></g>
<g transform="translate(118.40,139.50) scale(0.93,1)" stroke="#000" stroke-width="0.35"><text x="0.00" y="0" font-size="10.5">2</text></g>
<g transform="translate(140.50,145.90) scale(0.79,1)" stroke="#000" stroke-width="0.35"><path transform="translate(0.00,0) scale(0.01200,-0.01200)" d="M372 0L281 0L281 560C259 539 230 518 195 497C160 476 130 461 106 452L106 537C156 561 199 590 236 623C273 656 299 687 314 716L372 716Z"/><text x="6.67" y="0" font-size="12.0">0</text></g>
<g transform="translate(151.90,139.50) scale(0.93,1)" stroke="#000" stroke-width="0.35"><text x="0.00" y="0" font-size="10.5">3</text></g>
<g transform="translate(174.00,145.90) scale(0.79,1)" stroke="#000" stroke-width="0.35"><path transform="translate(0.00,0) scale(0.01200,-0.01200)" d="M372 0L281 0L281 560C259 539 230 518 195 497C160 476 130 461 106 452L106 537C156 561 199 590 236 623C273 656 299 687 314 716L372 716Z"/><text x="6.67" y="0" font-size="12.0">0</text></g>
<g transform="translate(185.40,139.50) scale(0.93,1)" stroke="#000" stroke-width="0.35"><text x="0.00" y="0" font-size="10.5">4</text></g>
<g transform="translate(37.20,135.20) rotate(-90) scale(0.81,1)" stroke="#000" stroke-width="0.35"><path transform="translate(0.00,0) scale(0.01200,-0.01200)" d="M372 0L281 0L281 560C259 539 230 518 195 497C160 476 130 461 106 452L106 537C156 561 199 590 236 623C273 656 299 687 314 716L372 716Z"/><text x="6.67" y="0" font-size="12.0">0</text></g>
<g transform="translate(31.80,123.10) rotate(-90) scale(0.93,1)" stroke="#000" stroke-width="0.35"><text x="0.00" y="0" font-size="10.5">0</text></g>
<g transform="translate(37.20,111.87) rotate(-90) scale(0.81,1)" stroke="#000" stroke-width="0.35"><path transform="translate(0.00,0) scale(0.01200,-0.01200)" d="M372 0L281 0L281 560C259 539 230 518 195 497C160 476 130 461 106 452L106 537C156 561 199 590 236 623C273 656 299 687 314 716L372 716Z"/><text x="6.67" y="0" font-size="12.0">0</text></g>
<g transform="translate(31.80,99.77) rotate(-90) scale(0.93,1)" stroke="#000" stroke-width="0.35"><path transform="translate(0.00,0) scale(0.01050,-0.01050)" d="M372 0L281 0L281 560C259 539 230 518 195 497C160 476 130 461 106 452L106 537C156 561 199 590 236 623C273 656 299 687 314 716L372 716Z"/></g>
<g transform="translate(37.20,88.55) rotate(-90) scale(0.81,1)" stroke="#000" stroke-width="0.35"><path transform="translate(0.00,0) scale(0.01200,-0.01200)" d="M372 0L281 0L281 560C259 539 230 518 195 497C160 476 130 461 106 452L106 537C156 561 199 590 236 623C273 656 299 687 314 716L372 716Z"/><text x="6.67" y="0" font-size="12.0">0</text></g>
<g transform="translate(31.80,76.45) rotate(-90) scale(0.93,1)" stroke="#000" stroke-width="0.35"><text x="0.00" y="0" font-size="10.5">2</text></g>
<g transform="translate(37.20,65.22) rotate(-90) scale(0.81,1)" stroke="#000" stroke-width="0.35"><path transform="translate(0.00,0) scale(0.01200,-0.01200)" d="M372 0L281 0L281 560C259 539 230 518 195 497C160 476 130 461 106 452L106 537C156 561 199 590 236 623C273 656 299 687 314 716L372 716Z"/><text x="6.67" y="0" font-size="12.0">0</text></g>
<g transform="translate(31.80,53.12) rotate(-90) scale(0.93,1)" stroke="#000" stroke-width="0.35"><text x="0.00" y="0" font-size="10.5">3</text></g>
<g transform="translate(37.20,41.90) rotate(-90) scale(0.81,1)" stroke="#000" stroke-width="0.35"><path transform="translate(0.00,0) scale(0.01200,-0.01200)" d="M372 0L281 0L281 560C259 539 230 518 195 497C160 476 130 461 106 452L106 537C156 561 199 590 236 623C273 656 299 687 314 716L372 716Z"/><text x="6.67" y="0" font-size="12.0">0</text></g>
<g transform="translate(31.80,29.80) rotate(-90) scale(0.93,1)" stroke="#000" stroke-width="0.35"><text x="0.00" y="0" font-size="10.5">4</text></g>
<ellipse cx="75.8" cy="67.6" rx="17.1" ry="14.3" fill="none" stroke="#000" stroke-width="1.1" transform="rotate(8 75.8 67.6)"/><ellipse cx="126.7" cy="64.2" rx="23.2" ry="16.2" fill="none" stroke="#000" stroke-width="1.1" transform="rotate(4 126.7 64.2)"/>
<rect x="47.2" y="161.5" width="136.60" height="94.20" fill="none" stroke="#000" stroke-width="1.3"/>
<line x1="93.8" y1="161.5" x2="93.8" y2="255.7" stroke="#111" stroke-width="1.2"/>
<line x1="47.2" y1="215.3" x2="183.8" y2="215.3" stroke="#111" stroke-width="1.2"/>
<path d="M48.50 255.7v5.5 M47.2 254.80h-5.5 M58.58 255.7v3.0 M47.2 247.78h-3.0 M64.48 255.7v3.0 M47.2 243.67h-3.0 M68.67 255.7v3.0 M47.2 240.76h-3.0 M71.92 255.7v3.0 M47.2 238.50h-3.0 M74.57 255.7v3.0 M47.2 236.65h-3.0 M76.81 255.7v3.0 M47.2 235.09h-3.0 M78.75 255.7v3.0 M47.2 233.74h-3.0 M80.47 255.7v3.0 M47.2 232.54h-3.0 M82.00 255.7v5.5 M47.2 231.47h-5.5 M92.08 255.7v3.0 M47.2 224.45h-3.0 M97.98 255.7v3.0 M47.2 220.35h-3.0 M102.17 255.7v3.0 M47.2 217.43h-3.0 M105.42 255.7v3.0 M47.2 215.17h-3.0 M108.07 255.7v3.0 M47.2 213.32h-3.0 M110.31 255.7v3.0 M47.2 211.76h-3.0 M112.25 255.7v3.0 M47.2 210.41h-3.0 M113.97 255.7v3.0 M47.2 209.22h-3.0 M115.50 255.7v5.5 M47.2 208.15h-5.5 M125.58 255.7v3.0 M47.2 201.13h-3.0 M131.48 255.7v3.0 M47.2 197.02h-3.0 M135.67 255.7v3.0 M47.2 194.11h-3.0 M138.92 255.7v3.0 M47.2 191.85h-3.0 M141.57 255.7v3.0 M47.2 190.00h-3.0 M143.81 255.7v3.0 M47.2 188.44h-3.0 M145.75 255.7v3.0 M47.2 187.09h-3.0 M147.47 255.7v3.0 M47.2 185.89h-3.0 M149.00 255.7v5.5 M47.2 184.82h-5.5 M159.08 255.7v3.0 M47.2 177.80h-3.0 M164.98 255.7v3.0 M47.2 173.70h-3.0 M169.17 255.7v3.0 M47.2 170.78h-3.0 M172.42 255.7v3.0 M47.2 168.52h-3.0 M175.07 255.7v3.0 M47.2 166.67h-3.0 M177.31 255.7v3.0 M47.2 165.11h-3.0 M179.25 255.7v3.0 M47.2 163.76h-3.0 M180.97 255.7v3.0 M47.2 162.57h-3.0 M182.5 255.7v5.5 M47.2 161.8h-5.5" stroke="#000" stroke-width="1.4" fill="none"/>
<path d="M81.4 201.6h1.7v1.7h-1.7zM65.7 193.3h1.7v1.7h-1.7zM73.5 192.2h1.7v1.7h-1.7zM74.5 193.3h1.7v1.7h-1.7zM81.9 193.1h1.7v1.7h-1.7zM80.8 198.8h1.7v1.7h-1.7zM75.3 197.6h1.7v1.7h-1.7zM90.6 198.4h1.7v1.7h-1.7zM75.9 196.7h1.7v1.7h-1.7zM74.1 198.2h1.7v1.7h-1.7zM85.6 193.4h1.7v1.7h-1.7zM78.7 201.9h1.7v1.7h-1.7zM76.8 197.8h1.7v1.7h-1.7zM73.4 193.4h1.7v1.7h-1.7zM76.7 206.4h1.7v1.7h-1.7zM77.4 194.7h1.7v1.7h-1.7zM76.5 196.3h1.7v1.7h-1.7zM84.1 197.8h1.7v1.7h-1.7zM93.0 197.9h1.7v1.7h-1.7zM89.1 198.2h1.7v1.7h-1.7zM83.8 190.8h1.7v1.7h-1.7zM79.2 196.7h1.7v1.7h-1.7zM78.5 187.7h1.7v1.7h-1.7zM85.5 195.3h1.7v1.7h-1.7zM77.2 195.9h1.7v1.7h-1.7zM78.6 198.8h1.7v1.7h-1.7zM72.0 193.0h1.7v1.7h-1.7zM81.8 197.6h1.7v1.7h-1.7zM77.6 194.5h1.7v1.7h-1.7zM74.7 196.7h1.7v1.7h-1.7zM87.4 192.5h1.7v1.7h-1.7zM89.6 200.6h1.7v1.7h-1.7zM77.1 200.4h1.7v1.7h-1.7zM70.8 189.6h1.7v1.7h-1.7zM71.9 195.2h1.7v1.7h-1.7zM77.9 194.8h1.7v1.7h-1.7zM80.6 187.8h1.7v1.7h-1.7zM83.1 190.9h1.7v1.7h-1.7zM75.8 195.2h1.7v1.7h-1.7zM72.7 191.1h1.7v1.7h-1.7zM73.7 196.9h1.7v1.7h-1.7zM83.7 199.4h1.7v1.7h-1.7zM73.7 193.6h1.7v1.7h-1.7zM74.2 198.9h1.7v1.7h-1.7zM67.2 202.3h1.7v1.7h-1.7zM76.9 193.6h1.7v1.7h-1.7zM82.1 201.4h1.7v1.7h-1.7zM82.2 201.5h1.7v1.7h-1.7zM80.8 202.3h1.7v1.7h-1.7zM87.8 196.6h1.7v1.7h-1.7zM89.1 197.7h1.7v1.7h-1.7zM80.5 193.0h1.7v1.7h-1.7zM78.2 200.3h1.7v1.7h-1.7zM71.7 199.8h1.7v1.7h-1.7zM82.2 198.2h1.7v1.7h-1.7zM66.1 196.6h1.7v1.7h-1.7zM84.1 193.7h1.7v1.7h-1.7zM80.6 186.8h1.7v1.7h-1.7zM84.2 194.2h1.7v1.7h-1.7zM85.5 189.1h1.7v1.7h-1.7zM84.4 196.0h1.7v1.7h-1.7zM85.1 193.0h1.7v1.7h-1.7zM76.1 206.6h1.7v1.7h-1.7zM74.8 194.0h1.7v1.7h-1.7zM78.3 192.6h1.7v1.7h-1.7zM87.5 204.4h1.7v1.7h-1.7zM75.6 189.6h1.7v1.7h-1.7zM87.4 201.8h1.7v1.7h-1.7zM85.2 202.0h1.7v1.7h-1.7zM74.5 196.3h1.7v1.7h-1.7zM71.3 190.9h1.7v1.7h-1.7zM86.2 194.1h1.7v1.7h-1.7zM94.4 197.3h1.7v1.7h-1.7zM76.0 200.4h1.7v1.7h-1.7zM91.3 199.1h1.7v1.7h-1.7zM72.3 198.6h1.7v1.7h-1.7zM88.7 194.9h1.7v1.7h-1.7zM75.1 201.4h1.7v1.7h-1.7zM80.9 192.3h1.7v1.7h-1.7zM77.6 193.8h1.7v1.7h-1.7zM81.9 197.5h1.7v1.7h-1.7zM87.2 200.1h1.7v1.7h-1.7zM70.1 198.8h1.7v1.7h-1.7zM85.7 199.0h1.7v1.7h-1.7zM86.5 194.6h1.7v1.7h-1.7zM74.0 201.0h1.7v1.7h-1.7zM73.3 187.7h1.7v1.7h-1.7zM86.5 193.9h1.7v1.7h-1.7zM78.1 191.0h1.7v1.7h-1.7zM71.6 192.0h1.7v1.7h-1.7zM77.7 198.6h1.7v1.7h-1.7zM65.5 200.2h1.7v1.7h-1.7zM72.6 192.4h1.7v1.7h-1.7zM84.3 196.7h1.7v1.7h-1.7zM70.3 204.9h1.7v1.7h-1.7zM74.6 198.1h1.7v1.7h-1.7zM81.3 203.1h1.7v1.7h-1.7zM77.1 201.3h1.7v1.7h-1.7zM75.3 201.8h1.7v1.7h-1.7zM75.2 195.4h1.7v1.7h-1.7zM91.9 198.4h1.7v1.7h-1.7zM80.7 206.6h1.7v1.7h-1.7zM82.3 193.5h1.7v1.7h-1.7zM84.6 191.9h1.7v1.7h-1.7zM87.1 202.2h1.7v1.7h-1.7zM76.4 194.3h1.7v1.7h-1.7zM81.1 197.1h1.7v1.7h-1.7zM73.8 199.4h1.7v1.7h-1.7zM67.1 195.1h1.7v1.7h-1.7zM77.5 195.8h1.7v1.7h-1.7zM81.9 191.7h1.7v1.7h-1.7zM83.7 196.2h1.7v1.7h-1.7zM75.9 191.1h1.7v1.7h-1.7zM72.5 198.5h1.7v1.7h-1.7zM73.9 197.3h1.7v1.7h-1.7zM86.7 201.4h1.7v1.7h-1.7zM89.8 195.7h1.7v1.7h-1.7zM73.2 201.4h1.7v1.7h-1.7zM82.0 201.8h1.7v1.7h-1.7zM80.1 202.1h1.7v1.7h-1.7zM85.3 200.1h1.7v1.7h-1.7zM83.2 198.7h1.7v1.7h-1.7zM81.5 198.0h1.7v1.7h-1.7zM86.2 194.8h1.7v1.7h-1.7zM90.9 196.5h1.7v1.7h-1.7zM86.2 196.6h1.7v1.7h-1.7zM78.4 205.7h1.7v1.7h-1.7zM78.1 191.5h1.7v1.7h-1.7zM75.5 195.6h1.7v1.7h-1.7zM93.6 197.9h1.7v1.7h-1.7zM85.9 192.7h1.7v1.7h-1.7zM82.2 199.9h1.7v1.7h-1.7zM91.4 194.0h1.7v1.7h-1.7zM83.8 198.3h1.7v1.7h-1.7zM73.6 196.9h1.7v1.7h-1.7zM78.3 187.0h1.7v1.7h-1.7zM83.8 199.3h1.7v1.7h-1.7zM77.2 191.2h1.7v1.7h-1.7zM89.3 198.1h1.7v1.7h-1.7zM86.4 203.1h1.7v1.7h-1.7zM76.7 200.5h1.7v1.7h-1.7zM78.5 196.7h1.7v1.7h-1.7zM79.5 197.0h1.7v1.7h-1.7zM87.0 197.5h1.7v1.7h-1.7zM79.0 195.8h1.7v1.7h-1.7zM82.2 193.2h1.7v1.7h-1.7zM76.8 196.8h1.7v1.7h-1.7zM76.4 196.5h1.7v1.7h-1.7zM76.2 205.6h1.7v1.7h-1.7zM88.4 198.9h1.7v1.7h-1.7zM79.7 206.4h1.7v1.7h-1.7zM82.0 196.6h1.7v1.7h-1.7zM81.9 198.3h1.7v1.7h-1.7zM88.9 196.9h1.7v1.7h-1.7zM93.2 193.2h1.7v1.7h-1.7zM84.4 192.7h1.7v1.7h-1.7zM91.4 195.6h1.7v1.7h-1.7zM79.6 201.0h1.7v1.7h-1.7zM87.9 192.2h1.7v1.7h-1.7zM77.8 191.0h1.7v1.7h-1.7zM80.9 196.6h1.7v1.7h-1.7zM77.8 194.1h1.7v1.7h-1.7zM77.6 193.8h1.7v1.7h-1.7zM83.3 203.5h1.7v1.7h-1.7zM67.8 196.5h1.7v1.7h-1.7zM77.4 199.1h1.7v1.7h-1.7zM74.0 196.4h1.7v1.7h-1.7zM73.5 200.0h1.7v1.7h-1.7zM80.6 196.3h1.7v1.7h-1.7zM82.3 195.9h1.7v1.7h-1.7zM70.2 199.6h1.7v1.7h-1.7zM81.8 196.3h1.7v1.7h-1.7zM86.2 202.2h1.7v1.7h-1.7zM73.1 193.6h1.7v1.7h-1.7zM89.7 203.1h1.7v1.7h-1.7zM75.3 191.9h1.7v1.7h-1.7zM76.0 194.9h1.7v1.7h-1.7zM70.0 197.1h1.7v1.7h-1.7zM71.9 191.8h1.7v1.7h-1.7zM85.8 194.1h1.7v1.7h-1.7zM79.5 199.7h1.7v1.7h-1.7zM85.1 195.6h1.7v1.7h-1.7zM80.3 193.5h1.7v1.7h-1.7zM91.0 199.8h1.7v1.7h-1.7zM73.0 197.0h1.7v1.7h-1.7zM84.5 199.1h1.7v1.7h-1.7zM91.5 202.9h1.7v1.7h-1.7zM76.6 196.6h1.7v1.7h-1.7zM71.9 198.1h1.7v1.7h-1.7zM81.0 208.6h1.7v1.7h-1.7zM80.6 188.0h1.7v1.7h-1.7zM75.8 197.5h1.7v1.7h-1.7zM72.1 193.3h1.7v1.7h-1.7zM77.7 198.5h1.7v1.7h-1.7zM79.0 193.2h1.7v1.7h-1.7zM85.0 194.7h1.7v1.7h-1.7zM76.9 191.1h1.7v1.7h-1.7zM75.0 199.8h1.7v1.7h-1.7zM69.8 196.7h1.7v1.7h-1.7zM84.5 195.4h1.7v1.7h-1.7zM81.5 192.2h1.7v1.7h-1.7zM88.3 201.7h1.7v1.7h-1.7zM81.5 189.5h1.7v1.7h-1.7zM73.4 201.2h1.7v1.7h-1.7zM90.8 198.3h1.7v1.7h-1.7zM87.9 194.4h1.7v1.7h-1.7zM78.8 197.0h1.7v1.7h-1.7zM82.7 190.4h1.7v1.7h-1.7zM85.9 202.7h1.7v1.7h-1.7zM72.8 191.2h1.7v1.7h-1.7zM82.2 194.2h1.7v1.7h-1.7zM65.1 200.5h1.7v1.7h-1.7zM81.0 195.0h1.7v1.7h-1.7zM93.3 197.6h1.7v1.7h-1.7zM75.3 197.4h1.7v1.7h-1.7zM73.4 193.7h1.7v1.7h-1.7zM82.4 194.6h1.7v1.7h-1.7zM77.2 204.2h1.7v1.7h-1.7zM85.4 200.5h1.7v1.7h-1.7zM83.3 199.1h1.7v1.7h-1.7zM89.2 196.9h1.7v1.7h-1.7zM91.7 192.9h1.7v1.7h-1.7zM78.4 191.1h1.7v1.7h-1.7zM77.8 199.2h1.7v1.7h-1.7zM89.1 194.1h1.7v1.7h-1.7zM80.0 195.5h1.7v1.7h-1.7zM75.3 191.9h1.7v1.7h-1.7zM80.4 189.6h1.7v1.7h-1.7zM80.7 197.1h1.7v1.7h-1.7zM75.9 192.7h1.7v1.7h-1.7zM71.3 205.0h1.7v1.7h-1.7zM71.5 203.7h1.7v1.7h-1.7zM83.8 195.4h1.7v1.7h-1.7zM72.7 201.5h1.7v1.7h-1.7zM90.9 193.0h1.7v1.7h-1.7zM78.1 201.5h1.7v1.7h-1.7zM82.1 205.6h1.7v1.7h-1.7zM76.4 199.3h1.7v1.7h-1.7zM72.1 206.0h1.7v1.7h-1.7zM75.4 187.5h1.7v1.7h-1.7zM79.2 196.4h1.7v1.7h-1.7zM92.1 195.5h1.7v1.7h-1.7zM79.9 199.6h1.7v1.7h-1.7zM90.0 196.7h1.7v1.7h-1.7zM86.5 199.2h1.7v1.7h-1.7zM78.1 197.3h1.7v1.7h-1.7zM80.2 193.1h1.7v1.7h-1.7zM87.6 191.0h1.7v1.7h-1.7zM87.4 201.1h1.7v1.7h-1.7zM79.4 193.7h1.7v1.7h-1.7zM78.6 199.0h1.7v1.7h-1.7zM84.7 198.2h1.7v1.7h-1.7zM86.3 194.6h1.7v1.7h-1.7zM81.5 190.3h1.7v1.7h-1.7zM84.8 197.7h1.7v1.7h-1.7zM77.4 202.0h1.7v1.7h-1.7zM84.4 184.9h1.7v1.7h-1.7zM80.3 190.7h1.7v1.7h-1.7zM86.7 207.7h1.7v1.7h-1.7zM76.7 197.3h1.7v1.7h-1.7zM78.4 198.5h1.7v1.7h-1.7zM84.1 202.5h1.7v1.7h-1.7zM73.8 203.8h1.7v1.7h-1.7zM74.1 198.2h1.7v1.7h-1.7zM87.3 200.1h1.7v1.7h-1.7zM74.1 194.0h1.7v1.7h-1.7zM77.1 196.8h1.7v1.7h-1.7zM87.2 191.4h1.7v1.7h-1.7zM82.9 199.6h1.7v1.7h-1.7zM83.5 199.0h1.7v1.7h-1.7zM89.6 199.1h1.7v1.7h-1.7zM85.4 199.4h1.7v1.7h-1.7zM91.3 188.8h1.7v1.7h-1.7zM88.1 195.9h1.7v1.7h-1.7zM78.2 192.8h1.7v1.7h-1.7zM68.2 195.4h1.7v1.7h-1.7zM75.7 199.1h1.7v1.7h-1.7zM70.7 203.2h1.7v1.7h-1.7zM81.7 195.9h1.7v1.7h-1.7zM75.5 193.6h1.7v1.7h-1.7zM72.9 194.7h1.7v1.7h-1.7zM80.0 196.2h1.7v1.7h-1.7zM71.1 195.9h1.7v1.7h-1.7zM74.4 197.7h1.7v1.7h-1.7zM91.7 199.7h1.7v1.7h-1.7zM78.0 190.0h1.7v1.7h-1.7zM71.1 189.7h1.7v1.7h-1.7zM84.6 193.7h1.7v1.7h-1.7zM80.4 194.3h1.7v1.7h-1.7zM80.6 203.0h1.7v1.7h-1.7zM75.7 195.5h1.7v1.7h-1.7zM74.9 200.8h1.7v1.7h-1.7zM73.5 192.1h1.7v1.7h-1.7zM71.3 190.9h1.7v1.7h-1.7zM83.0 208.0h1.7v1.7h-1.7zM73.7 201.1h1.7v1.7h-1.7zM81.6 192.3h1.7v1.7h-1.7zM78.3 196.0h1.7v1.7h-1.7zM75.6 205.3h1.7v1.7h-1.7zM68.0 198.6h1.7v1.7h-1.7zM82.1 194.5h1.7v1.7h-1.7zM80.9 200.8h1.7v1.7h-1.7zM81.0 198.8h1.7v1.7h-1.7zM84.4 188.3h1.7v1.7h-1.7zM89.3 206.8h1.7v1.7h-1.7zM86.2 201.4h1.7v1.7h-1.7zM71.1 196.5h1.7v1.7h-1.7zM74.9 194.5h1.7v1.7h-1.7zM86.1 193.5h1.7v1.7h-1.7zM79.2 188.8h1.7v1.7h-1.7zM79.0 197.4h1.7v1.7h-1.7zM75.6 193.9h1.7v1.7h-1.7zM91.9 191.8h1.7v1.7h-1.7zM73.4 193.5h1.7v1.7h-1.7zM87.6 206.0h1.7v1.7h-1.7zM82.1 193.9h1.7v1.7h-1.7zM77.3 201.6h1.7v1.7h-1.7zM74.3 203.2h1.7v1.7h-1.7zM88.9 197.3h1.7v1.7h-1.7zM84.1 200.2h1.7v1.7h-1.7zM89.8 192.5h1.7v1.7h-1.7zM87.4 195.4h1.7v1.7h-1.7zM75.2 197.4h1.7v1.7h-1.7zM78.6 192.8h1.7v1.7h-1.7zM69.9 192.9h1.7v1.7h-1.7zM89.1 205.4h1.7v1.7h-1.7zM84.1 202.1h1.7v1.7h-1.7zM76.7 196.7h1.7v1.7h-1.7zM81.8 192.4h1.7v1.7h-1.7zM73.8 197.4h1.7v1.7h-1.7zM78.0 192.4h1.7v1.7h-1.7zM82.4 195.9h1.7v1.7h-1.7zM86.4 197.0h1.7v1.7h-1.7zM78.1 197.5h1.7v1.7h-1.7zM78.9 194.1h1.7v1.7h-1.7zM77.5 200.2h1.7v1.7h-1.7zM84.1 202.5h1.7v1.7h-1.7zM69.3 195.3h1.7v1.7h-1.7zM77.4 197.7h1.7v1.7h-1.7zM77.2 194.8h1.7v1.7h-1.7zM84.9 197.8h1.7v1.7h-1.7zM72.7 202.7h1.7v1.7h-1.7zM86.3 194.5h1.7v1.7h-1.7zM85.2 193.8h1.7v1.7h-1.7zM87.1 196.1h1.7v1.7h-1.7zM74.9 195.4h1.7v1.7h-1.7zM75.2 197.8h1.7v1.7h-1.7zM81.1 197.2h1.7v1.7h-1.7zM80.6 188.8h1.7v1.7h-1.7zM81.5 201.9h1.7v1.7h-1.7zM81.7 195.3h1.7v1.7h-1.7zM78.9 196.4h1.7v1.7h-1.7zM76.5 194.5h1.7v1.7h-1.7zM74.2 202.1h1.7v1.7h-1.7zM79.9 201.1h1.7v1.7h-1.7zM78.4 197.3h1.7v1.7h-1.7zM78.9 199.0h1.7v1.7h-1.7zM85.2 198.0h1.7v1.7h-1.7zM75.8 193.6h1.7v1.7h-1.7zM90.5 195.8h1.7v1.7h-1.7zM78.2 203.3h1.7v1.7h-1.7zM86.9 199.3h1.7v1.7h-1.7zM77.5 207.1h1.7v1.7h-1.7zM82.5 199.4h1.7v1.7h-1.7zM78.9 190.9h1.7v1.7h-1.7zM71.6 198.8h1.7v1.7h-1.7zM82.5 196.0h1.7v1.7h-1.7zM72.6 190.8h1.7v1.7h-1.7zM77.9 190.7h1.7v1.7h-1.7zM85.7 202.0h1.7v1.7h-1.7zM97.8 200.8h1.7v1.7h-1.7zM76.3 193.3h1.7v1.7h-1.7zM58.3 194.4h1.7v1.7h-1.7zM78.9 201.2h1.7v1.7h-1.7zM83.9 199.5h1.7v1.7h-1.7zM81.3 199.8h1.7v1.7h-1.7zM89.1 192.4h1.7v1.7h-1.7zM77.1 191.0h1.7v1.7h-1.7zM90.2 202.6h1.7v1.7h-1.7zM84.7 191.8h1.7v1.7h-1.7zM81.1 196.0h1.7v1.7h-1.7zM80.5 196.2h1.7v1.7h-1.7zM83.3 195.3h1.7v1.7h-1.7zM85.4 198.0h1.7v1.7h-1.7zM78.2 196.5h1.7v1.7h-1.7zM77.2 200.5h1.7v1.7h-1.7zM78.3 198.3h1.7v1.7h-1.7zM77.5 190.6h1.7v1.7h-1.7zM85.7 192.5h1.7v1.7h-1.7zM84.3 198.8h1.7v1.7h-1.7zM69.6 192.9h1.7v1.7h-1.7zM76.8 193.5h1.7v1.7h-1.7zM72.6 200.2h1.7v1.7h-1.7zM78.5 198.7h1.7v1.7h-1.7zM77.3 198.3h1.7v1.7h-1.7zM75.3 196.9h1.7v1.7h-1.7zM83.7 197.2h1.7v1.7h-1.7zM77.1 192.3h1.7v1.7h-1.7zM81.1 198.5h1.7v1.7h-1.7zM78.4 193.7h1.7v1.7h-1.7zM83.4 207.7h1.7v1.7h-1.7zM78.1 198.4h1.7v1.7h-1.7zM82.4 186.0h1.7v1.7h-1.7zM80.8 194.0h1.7v1.7h-1.7zM88.7 195.9h1.7v1.7h-1.7zM75.1 196.1h1.7v1.7h-1.7zM81.0 194.6h1.7v1.7h-1.7zM79.7 191.2h1.7v1.7h-1.7zM78.6 200.3h1.7v1.7h-1.7zM92.4 200.0h1.7v1.7h-1.7zM81.7 202.1h1.7v1.7h-1.7zM86.4 204.2h1.7v1.7h-1.7zM86.8 196.5h1.7v1.7h-1.7zM81.6 197.8h1.7v1.7h-1.7zM81.9 197.9h1.7v1.7h-1.7zM75.1 188.0h1.7v1.7h-1.7zM75.8 188.3h1.7v1.7h-1.7zM80.4 197.0h1.7v1.7h-1.7zM69.4 200.0h1.7v1.7h-1.7zM85.5 197.4h1.7v1.7h-1.7zM90.5 205.0h1.7v1.7h-1.7zM72.4 201.5h1.7v1.7h-1.7zM82.8 198.8h1.7v1.7h-1.7zM85.9 193.9h1.7v1.7h-1.7zM76.3 193.4h1.7v1.7h-1.7zM75.2 196.6h1.7v1.7h-1.7zM70.9 192.5h1.7v1.7h-1.7zM83.6 196.7h1.7v1.7h-1.7zM82.4 188.9h1.7v1.7h-1.7zM75.1 194.6h1.7v1.7h-1.7zM80.2 194.5h1.7v1.7h-1.7zM85.9 196.7h1.7v1.7h-1.7zM80.1 197.1h1.7v1.7h-1.7zM84.5 195.0h1.7v1.7h-1.7zM87.1 199.0h1.7v1.7h-1.7zM81.0 197.2h1.7v1.7h-1.7zM83.3 201.4h1.7v1.7h-1.7zM86.0 198.6h1.7v1.7h-1.7zM85.5 197.5h1.7v1.7h-1.7zM87.9 196.9h1.7v1.7h-1.7zM66.9 202.8h1.7v1.7h-1.7zM80.7 192.0h1.7v1.7h-1.7zM78.8 193.2h1.7v1.7h-1.7zM93.2 199.1h1.7v1.7h-1.7zM70.1 199.3h1.7v1.7h-1.7zM77.5 205.2h1.7v1.7h-1.7zM73.4 187.3h1.7v1.7h-1.7zM80.4 195.5h1.7v1.7h-1.7zM77.4 187.8h1.7v1.7h-1.7zM82.7 204.2h1.7v1.7h-1.7zM68.0 202.0h1.7v1.7h-1.7zM76.4 207.1h1.7v1.7h-1.7zM82.7 196.2h1.7v1.7h-1.7zM87.0 199.3h1.7v1.7h-1.7zM76.3 200.1h1.7v1.7h-1.7zM76.8 189.3h1.7v1.7h-1.7zM92.8 195.5h1.7v1.7h-1.7zM76.2 198.5h1.7v1.7h-1.7zM70.2 191.2h1.7v1.7h-1.7zM76.9 194.8h1.7v1.7h-1.7zM80.5 201.8h1.7v1.7h-1.7zM77.0 199.1h1.7v1.7h-1.7zM83.8 192.3h1.7v1.7h-1.7zM81.4 192.9h1.7v1.7h-1.7zM86.7 199.0h1.7v1.7h-1.7zM80.1 191.2h1.7v1.7h-1.7zM80.7 193.7h1.7v1.7h-1.7zM84.4 196.5h1.7v1.7h-1.7zM74.9 201.0h1.7v1.7h-1.7zM84.5 194.4h1.7v1.7h-1.7zM87.3 195.7h1.7v1.7h-1.7zM78.1 197.5h1.7v1.7h-1.7zM75.3 195.1h1.7v1.7h-1.7zM79.0 203.6h1.7v1.7h-1.7zM89.4 195.9h1.7v1.7h-1.7zM90.1 196.8h1.7v1.7h-1.7zM82.4 200.8h1.7v1.7h-1.7zM81.8 207.4h1.7v1.7h-1.7zM81.5 191.9h1.7v1.7h-1.7zM88.2 195.2h1.7v1.7h-1.7zM78.1 184.1h1.7v1.7h-1.7zM86.3 200.5h1.7v1.7h-1.7zM85.0 201.2h1.7v1.7h-1.7zM90.7 196.8h1.7v1.7h-1.7zM85.9 193.8h1.7v1.7h-1.7zM77.8 201.5h1.7v1.7h-1.7zM82.5 191.3h1.7v1.7h-1.7zM82.3 196.2h1.7v1.7h-1.7zM74.8 198.9h1.7v1.7h-1.7zM77.5 190.2h1.7v1.7h-1.7zM73.0 204.6h1.7v1.7h-1.7zM70.5 198.0h1.7v1.7h-1.7zM83.8 199.7h1.7v1.7h-1.7zM72.3 195.6h1.7v1.7h-1.7zM80.9 200.4h1.7v1.7h-1.7zM75.9 192.0h1.7v1.7h-1.7zM86.3 201.8h1.7v1.7h-1.7zM82.3 194.4h1.7v1.7h-1.7zM82.6 197.5h1.7v1.7h-1.7zM85.3 191.6h1.7v1.7h-1.7zM80.7 196.3h1.7v1.7h-1.7zM73.0 197.9h1.7v1.7h-1.7zM80.2 195.2h1.7v1.7h-1.7zM82.5 190.9h1.7v1.7h-1.7zM79.7 198.9h1.7v1.7h-1.7zM81.8 201.6h1.7v1.7h-1.7zM72.4 190.5h1.7v1.7h-1.7zM81.5 199.0h1.7v1.7h-1.7zM93.4 199.7h1.7v1.7h-1.7zM74.5 200.5h1.7v1.7h-1.7zM74.7 190.6h1.7v1.7h-1.7zM96.4 198.4h1.7v1.7h-1.7zM84.5 199.4h1.7v1.7h-1.7zM91.4 198.2h1.7v1.7h-1.7zM87.7 192.6h1.7v1.7h-1.7zM71.2 203.1h1.7v1.7h-1.7zM89.3 199.2h1.7v1.7h-1.7zM81.4 197.7h1.7v1.7h-1.7zM75.7 203.6h1.7v1.7h-1.7zM84.2 199.2h1.7v1.7h-1.7zM82.4 201.5h1.7v1.7h-1.7zM83.2 200.2h1.7v1.7h-1.7zM72.6 199.2h1.7v1.7h-1.7zM93.8 194.8h1.7v1.7h-1.7zM79.2 200.8h1.7v1.7h-1.7zM86.0 199.7h1.7v1.7h-1.7zM69.8 199.2h1.7v1.7h-1.7zM72.5 193.5h1.7v1.7h-1.7zM83.5 195.7h1.7v1.7h-1.7zM85.1 210.5h1.7v1.7h-1.7zM84.9 200.1h1.7v1.7h-1.7zM74.4 194.2h1.7v1.7h-1.7zM73.3 194.7h1.7v1.7h-1.7zM73.1 194.2h1.7v1.7h-1.7zM78.7 192.7h1.7v1.7h-1.7zM71.1 191.1h1.7v1.7h-1.7zM82.9 197.3h1.7v1.7h-1.7zM86.5 201.5h1.7v1.7h-1.7zM77.9 199.9h1.7v1.7h-1.7zM70.9 206.8h1.7v1.7h-1.7zM87.5 196.1h1.7v1.7h-1.7zM72.7 198.6h1.7v1.7h-1.7zM68.2 193.6h1.7v1.7h-1.7zM84.7 197.3h1.7v1.7h-1.7zM76.9 201.1h1.7v1.7h-1.7zM73.5 198.2h1.7v1.7h-1.7zM76.9 193.4h1.7v1.7h-1.7zM82.9 192.7h1.7v1.7h-1.7zM92.0 194.5h1.7v1.7h-1.7zM92.5 192.3h1.7v1.7h-1.7zM83.8 191.8h1.7v1.7h-1.7zM71.6 197.7h1.7v1.7h-1.7zM84.3 191.5h1.7v1.7h-1.7zM87.5 193.6h1.7v1.7h-1.7zM80.8 198.6h1.7v1.7h-1.7zM83.7 189.3h1.7v1.7h-1.7zM90.2 199.4h1.7v1.7h-1.7zM77.3 192.6h1.7v1.7h-1.7zM69.3 191.1h1.7v1.7h-1.7zM83.4 195.5h1.7v1.7h-1.7zM72.9 194.7h1.7v1.7h-1.7zM89.9 195.6h1.7v1.7h-1.7zM76.3 202.8h1.7v1.7h-1.7zM82.9 197.2h1.7v1.7h-1.7zM76.2 190.3h1.7v1.7h-1.7zM72.6 194.9h1.7v1.7h-1.7zM78.6 198.5h1.7v1.7h-1.7zM83.5 198.0h1.7v1.7h-1.7zM81.4 192.7h1.7v1.7h-1.7zM66.4 194.8h1.7v1.7h-1.7zM74.0 194.2h1.7v1.7h-1.7zM78.3 191.7h1.7v1.7h-1.7zM73.0 196.6h1.7v1.7h-1.7zM80.7 194.2h1.7v1.7h-1.7zM83.1 196.1h1.7v1.7h-1.7zM73.6 197.2h1.7v1.7h-1.7zM91.9 194.1h1.7v1.7h-1.7zM87.3 202.9h1.7v1.7h-1.7zM89.4 193.5h1.7v1.7h-1.7zM92.7 197.5h1.7v1.7h-1.7zM78.4 196.0h1.7v1.7h-1.7zM83.8 197.2h1.7v1.7h-1.7zM78.9 202.5h1.7v1.7h-1.7zM75.4 192.5h1.7v1.7h-1.7zM85.0 200.0h1.7v1.7h-1.7zM86.9 192.4h1.7v1.7h-1.7zM86.8 199.1h1.7v1.7h-1.7zM91.1 191.6h1.7v1.7h-1.7zM81.4 195.8h1.7v1.7h-1.7zM70.0 193.9h1.7v1.7h-1.7zM87.1 195.0h1.7v1.7h-1.7zM75.4 200.7h1.7v1.7h-1.7zM86.2 201.2h1.7v1.7h-1.7zM75.0 196.8h1.7v1.7h-1.7zM86.5 194.2h1.7v1.7h-1.7zM75.3 200.6h1.7v1.7h-1.7zM89.8 192.0h1.7v1.7h-1.7zM63.6 190.8h1.7v1.7h-1.7zM73.6 196.4h1.7v1.7h-1.7zM80.8 195.2h1.7v1.7h-1.7zM66.3 196.8h1.7v1.7h-1.7zM63.4 195.7h1.7v1.7h-1.7zM66.9 210.7h1.7v1.7h-1.7zM83.0 191.4h1.7v1.7h-1.7zM63.0 193.6h1.7v1.7h-1.7zM55.9 192.0h1.7v1.7h-1.7zM65.9 200.9h1.7v1.7h-1.7zM69.3 191.7h1.7v1.7h-1.7zM59.3 189.5h1.7v1.7h-1.7zM73.3 194.8h1.7v1.7h-1.7zM86.5 192.5h1.7v1.7h-1.7zM85.7 197.4h1.7v1.7h-1.7zM73.9 185.0h1.7v1.7h-1.7zM59.8 200.1h1.7v1.7h-1.7zM89.4 197.1h1.7v1.7h-1.7zM82.4 193.8h1.7v1.7h-1.7zM69.9 192.4h1.7v1.7h-1.7zM84.7 197.9h1.7v1.7h-1.7zM71.4 194.2h1.7v1.7h-1.7zM80.1 197.8h1.7v1.7h-1.7zM64.8 205.4h1.7v1.7h-1.7zM76.8 196.1h1.7v1.7h-1.7zM90.3 201.6h1.7v1.7h-1.7zM73.0 198.9h1.7v1.7h-1.7zM62.2 192.5h1.7v1.7h-1.7zM49.1 202.7h1.7v1.7h-1.7zM53.1 199.7h1.7v1.7h-1.7zM64.9 190.6h1.7v1.7h-1.7zM71.9 197.5h1.7v1.7h-1.7zM80.7 205.7h1.7v1.7h-1.7zM77.9 200.8h1.7v1.7h-1.7zM67.4 199.9h1.7v1.7h-1.7zM75.7 193.5h1.7v1.7h-1.7zM72.9 195.7h1.7v1.7h-1.7zM76.1 198.2h1.7v1.7h-1.7zM68.4 191.9h1.7v1.7h-1.7zM82.2 186.7h1.7v1.7h-1.7zM67.2 204.5h1.7v1.7h-1.7zM81.6 186.9h1.7v1.7h-1.7zM89.8 204.6h1.7v1.7h-1.7zM84.1 194.8h1.7v1.7h-1.7zM77.9 191.1h1.7v1.7h-1.7zM82.9 189.8h1.7v1.7h-1.7zM71.0 201.5h1.7v1.7h-1.7zM61.7 194.0h1.7v1.7h-1.7zM75.8 188.6h1.7v1.7h-1.7zM86.8 197.9h1.7v1.7h-1.7zM57.3 195.7h1.7v1.7h-1.7zM65.5 192.4h1.7v1.7h-1.7zM74.8 192.1h1.7v1.7h-1.7zM84.6 192.1h1.7v1.7h-1.7zM84.8 195.8h1.7v1.7h-1.7zM83.4 193.0h1.7v1.7h-1.7zM68.4 189.7h1.7v1.7h-1.7zM80.4 201.2h1.7v1.7h-1.7zM97.3 203.1h1.7v1.7h-1.7zM76.7 194.8h1.7v1.7h-1.7zM78.3 195.8h1.7v1.7h-1.7zM90.1 201.2h1.7v1.7h-1.7zM64.8 192.2h1.7v1.7h-1.7zM89.0 197.7h1.7v1.7h-1.7zM71.5 202.5h1.7v1.7h-1.7zM69.7 194.5h1.7v1.7h-1.7zM68.9 185.2h1.7v1.7h-1.7zM83.5 189.4h1.7v1.7h-1.7zM67.7 191.9h1.7v1.7h-1.7zM82.0 195.6h1.7v1.7h-1.7zM74.2 186.8h1.7v1.7h-1.7zM73.0 187.9h1.7v1.7h-1.7zM77.4 198.0h1.7v1.7h-1.7zM73.8 207.2h1.7v1.7h-1.7zM79.8 199.3h1.7v1.7h-1.7zM75.6 194.9h1.7v1.7h-1.7zM84.6 202.1h1.7v1.7h-1.7zM59.7 201.8h1.7v1.7h-1.7zM79.7 201.3h1.7v1.7h-1.7zM79.1 189.2h1.7v1.7h-1.7zM61.1 206.0h1.7v1.7h-1.7zM76.8 188.2h1.7v1.7h-1.7zM77.8 194.0h1.7v1.7h-1.7zM56.4 197.5h1.7v1.7h-1.7zM73.5 194.6h1.7v1.7h-1.7zM77.1 199.3h1.7v1.7h-1.7zM50.9 194.3h1.7v1.7h-1.7zM64.9 189.2h1.7v1.7h-1.7zM68.0 195.3h1.7v1.7h-1.7zM71.1 188.0h1.7v1.7h-1.7zM68.7 207.1h1.7v1.7h-1.7zM62.4 186.7h1.7v1.7h-1.7zM77.0 199.3h1.7v1.7h-1.7zM79.1 189.8h1.7v1.7h-1.7zM85.0 191.7h1.7v1.7h-1.7zM61.5 192.7h1.7v1.7h-1.7zM72.8 199.9h1.7v1.7h-1.7zM80.9 195.9h1.7v1.7h-1.7zM84.3 196.4h1.7v1.7h-1.7zM83.9 188.3h1.7v1.7h-1.7zM56.7 200.3h1.7v1.7h-1.7zM58.7 194.3h1.7v1.7h-1.7zM72.9 193.3h1.7v1.7h-1.7zM69.0 203.7h1.7v1.7h-1.7zM99.2 196.1h1.7v1.7h-1.7zM73.8 200.0h1.7v1.7h-1.7zM94.1 189.5h1.7v1.7h-1.7zM75.0 195.0h1.7v1.7h-1.7zM80.2 196.9h1.7v1.7h-1.7zM81.3 193.7h1.7v1.7h-1.7zM74.5 192.3h1.7v1.7h-1.7zM66.7 195.2h1.7v1.7h-1.7zM72.4 189.6h1.7v1.7h-1.7zM91.3 195.3h1.7v1.7h-1.7zM58.8 202.1h1.7v1.7h-1.7zM65.8 198.8h1.7v1.7h-1.7zM73.8 197.4h1.7v1.7h-1.7zM75.9 192.8h1.7v1.7h-1.7zM74.5 207.2h1.7v1.7h-1.7zM49.4 196.4h1.7v1.7h-1.7zM78.8 190.2h1.7v1.7h-1.7zM58.9 207.9h1.7v1.7h-1.7zM69.9 207.4h1.7v1.7h-1.7zM79.9 196.4h1.7v1.7h-1.7zM79.2 199.5h1.7v1.7h-1.7zM87.0 198.4h1.7v1.7h-1.7zM75.6 197.0h1.7v1.7h-1.7zM88.9 200.5h1.7v1.7h-1.7zM63.0 192.5h1.7v1.7h-1.7zM77.6 192.6h1.7v1.7h-1.7zM69.9 190.7h1.7v1.7h-1.7zM71.1 198.3h1.7v1.7h-1.7zM84.9 196.1h1.7v1.7h-1.7zM96.8 195.6h1.7v1.7h-1.7zM109.1 201.5h1.7v1.7h-1.7zM79.5 193.3h1.7v1.7h-1.7zM76.0 206.6h1.7v1.7h-1.7zM58.8 206.5h1.7v1.7h-1.7zM71.2 200.0h1.7v1.7h-1.7zM70.2 199.8h1.7v1.7h-1.7zM75.0 189.7h1.7v1.7h-1.7zM84.4 199.8h1.7v1.7h-1.7zM80.6 201.5h1.7v1.7h-1.7zM86.1 195.9h1.7v1.7h-1.7zM59.1 188.4h1.7v1.7h-1.7zM88.8 199.9h1.7v1.7h-1.7zM75.1 193.6h1.7v1.7h-1.7zM74.3 196.1h1.7v1.7h-1.7zM70.3 192.2h1.7v1.7h-1.7zM97.8 197.3h1.7v1.7h-1.7zM67.3 188.8h1.7v1.7h-1.7zM66.0 200.0h1.7v1.7h-1.7zM82.3 194.8h1.7v1.7h-1.7zM74.6 194.3h1.7v1.7h-1.7zM61.8 203.2h1.7v1.7h-1.7zM78.1 209.6h1.7v1.7h-1.7zM65.7 195.2h1.7v1.7h-1.7zM83.7 194.7h1.7v1.7h-1.7zM58.7 190.8h1.7v1.7h-1.7zM75.1 197.9h1.7v1.7h-1.7zM73.0 201.5h1.7v1.7h-1.7zM84.9 197.8h1.7v1.7h-1.7zM74.3 194.6h1.7v1.7h-1.7zM80.1 201.1h1.7v1.7h-1.7zM74.7 198.5h1.7v1.7h-1.7zM70.4 188.2h1.7v1.7h-1.7zM63.0 200.2h1.7v1.7h-1.7zM78.9 204.7h1.7v1.7h-1.7zM74.6 200.8h1.7v1.7h-1.7zM88.6 201.5h1.7v1.7h-1.7zM67.3 195.0h1.7v1.7h-1.7zM75.4 190.6h1.7v1.7h-1.7zM79.2 201.6h1.7v1.7h-1.7zM68.7 206.8h1.7v1.7h-1.7zM70.8 194.9h1.7v1.7h-1.7zM71.4 192.1h1.7v1.7h-1.7zM78.6 196.1h1.7v1.7h-1.7zM92.3 199.3h1.7v1.7h-1.7zM79.9 194.8h1.7v1.7h-1.7zM58.4 195.5h1.7v1.7h-1.7zM64.6 201.2h1.7v1.7h-1.7zM73.7 205.2h1.7v1.7h-1.7zM82.1 200.6h1.7v1.7h-1.7zM76.5 197.1h1.7v1.7h-1.7zM81.2 201.1h1.7v1.7h-1.7zM66.2 198.7h1.7v1.7h-1.7zM102.8 195.5h1.7v1.7h-1.7zM71.2 192.2h1.7v1.7h-1.7zM58.1 202.5h1.7v1.7h-1.7zM74.7 197.6h1.7v1.7h-1.7zM94.3 209.8h1.7v1.7h-1.7zM64.2 201.8h1.7v1.7h-1.7zM80.9 198.2h1.7v1.7h-1.7zM79.3 195.9h1.7v1.7h-1.7zM91.5 199.4h1.7v1.7h-1.7zM77.8 202.9h1.7v1.7h-1.7zM61.9 200.8h1.7v1.7h-1.7zM58.8 208.6h1.7v1.7h-1.7zM59.8 197.5h1.7v1.7h-1.7zM52.3 196.0h1.7v1.7h-1.7zM51.2 198.7h1.7v1.7h-1.7zM58.4 185.7h1.7v1.7h-1.7zM57.1 201.9h1.7v1.7h-1.7zM57.9 192.3h1.7v1.7h-1.7zM64.0 193.8h1.7v1.7h-1.7zM50.3 191.5h1.7v1.7h-1.7zM56.9 203.9h1.7v1.7h-1.7zM63.4 199.3h1.7v1.7h-1.7zM50.4 194.1h1.7v1.7h-1.7zM52.1 196.9h1.7v1.7h-1.7zM60.6 197.1h1.7v1.7h-1.7zM59.5 192.4h1.7v1.7h-1.7zM49.0 194.2h1.7v1.7h-1.7zM63.4 204.2h1.7v1.7h-1.7zM54.5 205.2h1.7v1.7h-1.7zM55.2 207.1h1.7v1.7h-1.7zM59.7 195.3h1.7v1.7h-1.7zM61.4 193.4h1.7v1.7h-1.7zM51.9 189.3h1.7v1.7h-1.7zM58.4 197.7h1.7v1.7h-1.7zM56.6 195.5h1.7v1.7h-1.7zM64.9 195.5h1.7v1.7h-1.7zM53.0 205.5h1.7v1.7h-1.7zM64.8 200.0h1.7v1.7h-1.7zM60.4 198.1h1.7v1.7h-1.7zM65.5 189.8h1.7v1.7h-1.7zM60.7 194.2h1.7v1.7h-1.7zM64.3 197.5h1.7v1.7h-1.7zM62.7 194.1h1.7v1.7h-1.7zM49.2 191.3h1.7v1.7h-1.7zM53.7 191.9h1.7v1.7h-1.7zM63.6 206.0h1.7v1.7h-1.7zM58.5 191.8h1.7v1.7h-1.7zM56.3 193.9h1.7v1.7h-1.7zM65.0 199.9h1.7v1.7h-1.7zM59.7 195.6h1.7v1.7h-1.7zM50.9 200.2h1.7v1.7h-1.7zM57.5 193.2h1.7v1.7h-1.7zM54.9 207.4h1.7v1.7h-1.7zM51.7 192.5h1.7v1.7h-1.7zM55.7 193.8h1.7v1.7h-1.7zM54.6 201.2h1.7v1.7h-1.7zM66.5 187.3h1.7v1.7h-1.7zM56.9 198.2h1.7v1.7h-1.7zM56.5 196.9h1.7v1.7h-1.7zM55.1 204.0h1.7v1.7h-1.7zM54.4 197.2h1.7v1.7h-1.7zM57.0 198.6h1.7v1.7h-1.7zM56.1 204.0h1.7v1.7h-1.7zM57.0 199.0h1.7v1.7h-1.7zM56.7 192.0h1.7v1.7h-1.7zM52.4 191.7h1.7v1.7h-1.7zM58.1 193.7h1.7v1.7h-1.7zM51.2 199.4h1.7v1.7h-1.7zM59.9 187.4h1.7v1.7h-1.7zM66.3 198.2h1.7v1.7h-1.7zM56.4 204.4h1.7v1.7h-1.7zM57.4 194.4h1.7v1.7h-1.7zM69.1 191.6h1.7v1.7h-1.7zM56.5 203.1h1.7v1.7h-1.7zM51.1 197.4h1.7v1.7h-1.7zM59.1 212.4h1.7v1.7h-1.7zM52.1 197.7h1.7v1.7h-1.7zM60.6 198.5h1.7v1.7h-1.7zM50.4 200.4h1.7v1.7h-1.7zM57.6 200.7h1.7v1.7h-1.7zM63.2 204.1h1.7v1.7h-1.7zM59.2 199.9h1.7v1.7h-1.7zM51.0 197.2h1.7v1.7h-1.7zM58.2 195.6h1.7v1.7h-1.7zM57.5 193.0h1.7v1.7h-1.7zM65.4 210.9h1.7v1.7h-1.7zM54.9 200.4h1.7v1.7h-1.7zM97.7 196.1h1.7v1.7h-1.7zM101.4 191.3h1.7v1.7h-1.7zM97.8 191.5h1.7v1.7h-1.7zM93.5 193.7h1.7v1.7h-1.7zM95.1 193.1h1.7v1.7h-1.7zM99.7 195.4h1.7v1.7h-1.7zM98.9 195.1h1.7v1.7h-1.7zM93.9 193.4h1.7v1.7h-1.7zM97.8 191.8h1.7v1.7h-1.7zM99.4 194.7h1.7v1.7h-1.7zM87.9 192.3h1.7v1.7h-1.7zM90.8 195.8h1.7v1.7h-1.7zM88.1 187.0h1.7v1.7h-1.7zM89.8 197.6h1.7v1.7h-1.7zM91.9 191.5h1.7v1.7h-1.7zM96.1 183.8h1.7v1.7h-1.7zM97.1 193.7h1.7v1.7h-1.7zM98.0 194.8h1.7v1.7h-1.7zM97.0 191.0h1.7v1.7h-1.7zM96.9 192.4h1.7v1.7h-1.7zM109.4 192.4h1.7v1.7h-1.7zM100.1 188.5h1.7v1.7h-1.7zM94.8 196.9h1.7v1.7h-1.7zM92.9 187.3h1.7v1.7h-1.7zM98.5 189.3h1.7v1.7h-1.7zM101.0 193.9h1.7v1.7h-1.7zM92.8 188.4h1.7v1.7h-1.7zM101.4 197.5h1.7v1.7h-1.7zM93.9 184.7h1.7v1.7h-1.7zM104.3 197.1h1.7v1.7h-1.7zM107.0 190.2h1.7v1.7h-1.7zM105.2 190.8h1.7v1.7h-1.7zM96.9 189.2h1.7v1.7h-1.7zM107.1 196.7h1.7v1.7h-1.7zM87.2 187.3h1.7v1.7h-1.7zM108.8 189.5h1.7v1.7h-1.7zM91.5 191.0h1.7v1.7h-1.7zM98.4 190.6h1.7v1.7h-1.7zM96.4 189.8h1.7v1.7h-1.7zM96.5 192.3h1.7v1.7h-1.7zM94.5 189.8h1.7v1.7h-1.7zM98.2 196.2h1.7v1.7h-1.7zM101.1 190.6h1.7v1.7h-1.7zM101.9 192.6h1.7v1.7h-1.7zM105.0 193.0h1.7v1.7h-1.7zM108.9 196.4h1.7v1.7h-1.7zM98.8 189.3h1.7v1.7h-1.7zM103.9 193.1h1.7v1.7h-1.7zM98.5 185.1h1.7v1.7h-1.7zM88.9 192.4h1.7v1.7h-1.7zM103.2 194.2h1.7v1.7h-1.7zM91.9 195.1h1.7v1.7h-1.7zM96.1 192.6h1.7v1.7h-1.7zM101.3 187.8h1.7v1.7h-1.7zM94.0 183.8h1.7v1.7h-1.7zM101.4 191.2h1.7v1.7h-1.7zM104.0 192.4h1.7v1.7h-1.7zM117.0 191.0h1.7v1.7h-1.7zM124.0 205.0h1.7v1.7h-1.7zM134.0 191.0h1.7v1.7h-1.7zM156.0 185.0h1.7v1.7h-1.7zM128.0 187.0h1.7v1.7h-1.7zM101.0 203.0h1.7v1.7h-1.7zM110.0 197.0h1.7v1.7h-1.7z" fill="#000"/>
<g transform="translate(40.00,274.10) scale(0.79,1)" stroke="#000" stroke-width="0.35"><path transform="translate(0.00,0) scale(0.01200,-0.01200)" d="M372 0L281 0L281 560C259 539 230 518 195 497C160 476 130 461 106 452L106 537C156 561 199 590 236 623C273 656 299 687 314 716L372 716Z"/><text x="6.67" y="0" font-size="12.0">0</text></g>
<g transform="translate(51.40,267.70) scale(0.93,1)" stroke="#000" stroke-width="0.35"><text x="0.00" y="0" font-size="10.5">0</text></g>
<g transform="translate(73.50,274.10) scale(0.79,1)" stroke="#000" stroke-width="0.35"><path transform="translate(0.00,0) scale(0.01200,-0.01200)" d="M372 0L281 0L281 560C259 539 230 518 195 497C160 476 130 461 106 452L106 537C156 561 199 590 236 623C273 656 299 687 314 716L372 716Z"/><text x="6.67" y="0" font-size="12.0">0</text></g>
<g transform="translate(84.90,267.70) scale(0.93,1)" stroke="#000" stroke-width="0.35"><path transform="translate(0.00,0) scale(0.01050,-0.01050)" d="M372 0L281 0L281 560C259 539 230 518 195 497C160 476 130 461 106 452L106 537C156 561 199 590 236 623C273 656 299 687 314 716L372 716Z"/></g>
<g transform="translate(107.00,274.10) scale(0.79,1)" stroke="#000" stroke-width="0.35"><path transform="translate(0.00,0) scale(0.01200,-0.01200)" d="M372 0L281 0L281 560C259 539 230 518 195 497C160 476 130 461 106 452L106 537C156 561 199 590 236 623C273 656 299 687 314 716L372 716Z"/><text x="6.67" y="0" font-size="12.0">0</text></g>
<g transform="translate(118.40,267.70) scale(0.93,1)" stroke="#000" stroke-width="0.35"><text x="0.00" y="0" font-size="10.5">2</text></g>
<g transform="translate(140.50,274.10) scale(0.79,1)" stroke="#000" stroke-width="0.35"><path transform="translate(0.00,0) scale(0.01200,-0.01200)" d="M372 0L281 0L281 560C259 539 230 518 195 497C160 476 130 461 106 452L106 537C156 561 199 590 236 623C273 656 299 687 314 716L372 716Z"/><text x="6.67" y="0" font-size="12.0">0</text></g>
<g transform="translate(151.90,267.70) scale(0.93,1)" stroke="#000" stroke-width="0.35"><text x="0.00" y="0" font-size="10.5">3</text></g>
<g transform="translate(174.00,274.10) scale(0.79,1)" stroke="#000" stroke-width="0.35"><path transform="translate(0.00,0) scale(0.01200,-0.01200)" d="M372 0L281 0L281 560C259 539 230 518 195 497C160 476 130 461 106 452L106 537C156 561 199 590 236 623C273 656 299 687 314 716L372 716Z"/><text x="6.67" y="0" font-size="12.0">0</text></g>
<g transform="translate(185.40,267.70) scale(0.93,1)" stroke="#000" stroke-width="0.35"><text x="0.00" y="0" font-size="10.5">4</text></g>
<g transform="translate(37.20,263.40) rotate(-90) scale(0.81,1)" stroke="#000" stroke-width="0.35"><path transform="translate(0.00,0) scale(0.01200,-0.01200)" d="M372 0L281 0L281 560C259 539 230 518 195 497C160 476 130 461 106 452L106 537C156 561 199 590 236 623C273 656 299 687 314 716L372 716Z"/><text x="6.67" y="0" font-size="12.0">0</text></g>
<g transform="translate(31.80,251.30) rotate(-90) scale(0.93,1)" stroke="#000" stroke-width="0.35"><text x="0.00" y="0" font-size="10.5">0</text></g>
<g transform="translate(37.20,240.07) rotate(-90) scale(0.81,1)" stroke="#000" stroke-width="0.35"><path transform="translate(0.00,0) scale(0.01200,-0.01200)" d="M372 0L281 0L281 560C259 539 230 518 195 497C160 476 130 461 106 452L106 537C156 561 199 590 236 623C273 656 299 687 314 716L372 716Z"/><text x="6.67" y="0" font-size="12.0">0</text></g>
<g transform="translate(31.80,227.97) rotate(-90) scale(0.93,1)" stroke="#000" stroke-width="0.35"><path transform="translate(0.00,0) scale(0.01050,-0.01050)" d="M372 0L281 0L281 560C259 539 230 518 195 497C160 476 130 461 106 452L106 537C156 561 199 590 236 623C273 656 299 687 314 716L372 716Z"/></g>
<g transform="translate(37.20,216.75) rotate(-90) scale(0.81,1)" stroke="#000" stroke-width="0.35"><path transform="translate(0.00,0) scale(0.01200,-0.01200)" d="M372 0L281 0L281 560C259 539 230 518 195 497C160 476 130 461 106 452L106 537C156 561 199 590 236 623C273 656 299 687 314 716L372 716Z"/><text x="6.67" y="0" font-size="12.0">0</text></g>
<g transform="translate(31.80,204.65) rotate(-90) scale(0.93,1)" stroke="#000" stroke-width="0.35"><text x="0.00" y="0" font-size="10.5">2</text></g>
<g transform="translate(37.20,193.42) rotate(-90) scale(0.81,1)" stroke="#000" stroke-width="0.35"><path transform="translate(0.00,0) scale(0.01200,-0.01200)" d="M372 0L281 0L281 560C259 539 230 518 195 497C160 476 130 461 106 452L106 537C156 561 199 590 236 623C273 656 299 687 314 716L372 716Z"/><text x="6.67" y="0" font-size="12.0">0</text></g>
<g transform="translate(31.80,181.32) rotate(-90) scale(0.93,1)" stroke="#000" stroke-width="0.35"><text x="0.00" y="0" font-size="10.5">3</text></g>
<g transform="translate(37.20,170.10) rotate(-90) scale(0.81,1)" stroke="#000" stroke-width="0.35"><path transform="translate(0.00,0) scale(0.01200,-0.01200)" d="M372 0L281 0L281 560C259 539 230 518 195 497C160 476 130 461 106 452L106 537C156 561 199 590 236 623C273 656 299 687 314 716L372 716Z"/><text x="6.67" y="0" font-size="12.0">0</text></g>
<g transform="translate(31.80,158.00) rotate(-90) scale(0.93,1)" stroke="#000" stroke-width="0.35"><text x="0.00" y="0" font-size="10.5">4</text></g>
<path d="M256.6 71.8H441.3V204.9H256.6Z" fill="none" stroke="#333" stroke-width="1.3"/>
<path d="M256.6 204.90h-3.3 M256.6 190.50h-3.3 M256.6 176.10h-3.3 M256.6 161.70h-3.3 M256.6 147.30h-3.3 M256.6 132.90h-3.3 M256.6 118.50h-3.3 M256.6 104.10h-3.3 M256.6 89.70h-3.3 M256.6 75.30h-3.3 M282.3 204.9v2.8 M316.4 204.9v2.8 M350.6 204.9v2.8 M384.6 204.9v2.8 M419.3 204.9v2.8" stroke="#333" stroke-width="1" fill="none"/>
<text transform="translate(249.4,209.10) scale(0.86,1)" font-size="11.9" font-weight="bold" text-anchor="end">0</text>
<text transform="translate(249.4,180.30) scale(0.86,1)" font-size="11.9" font-weight="bold" text-anchor="end">20</text>
<text transform="translate(249.4,151.50) scale(0.86,1)" font-size="11.9" font-weight="bold" text-anchor="end">40</text>
<text transform="translate(249.4,122.70) scale(0.86,1)" font-size="11.9" font-weight="bold" text-anchor="end">60</text>
<text transform="translate(249.4,93.90) scale(0.86,1)" font-size="11.9" font-weight="bold" text-anchor="end">80</text>
<text transform="translate(281.80,220.8) scale(0.86,1)" font-size="11.9" font-weight="bold" text-anchor="middle">550</text>
<text transform="translate(419.00,220.8) scale(0.86,1)" font-size="11.9" font-weight="bold" text-anchor="middle">2200</text>
<g transform="translate(336.92,220.80) scale(0.86,1)"><path transform="translate(0.00,0) scale(0.01190,-0.01190)" d="M409 0L272 0L272 516C222 469 163 434 95 412L95 536C131 548 170 569 212 602C254 635 283 673 298 716L409 716Z"/><path transform="translate(6.62,0) scale(0.01190,-0.01190)" d="M409 0L272 0L272 516C222 469 163 434 95 412L95 536C131 548 170 569 212 602C254 635 283 673 298 716L409 716Z"/><text x="13.23 19.85" y="0" font-size="11.9" font-weight="bold">00</text></g>
<text x="348.2" y="241.4" font-size="14.25" font-weight="bold" text-anchor="middle">Suppressors/well</text>
<text transform="translate(229.9,140.35) rotate(-90)" font-size="14.3" font-weight="bold" text-anchor="middle">% suppression</text>
<path d="M282.30 125.70 L350.60 100.07 L419.30 82.07" stroke="#333" stroke-width="1.1" fill="none"/>
<path d="M282.30 189.06 L350.60 152.63 L419.30 80.77" stroke="#333" stroke-width="1.1" fill="none"/>
<path d="M282.30 202.02 L350.60 184.31 L419.30 160.55" stroke="#333" stroke-width="1.1" fill="none"/>
<path d="M282.30 118.50V132.90M280.30 118.50h4M280.30 132.90h4M350.60 92.87V107.27M348.60 92.87h4M348.60 107.27h4M419.30 74.87V84.95M417.30 74.87h4M417.30 84.95h4M282.30 179.70V198.42M280.30 179.70h4M280.30 198.42h4M350.60 146.58V158.68M348.60 146.58h4M348.60 158.68h4M419.30 75.73V80.77M417.30 75.73h4M282.30 199.14V204.90M280.30 199.14h4M280.30 204.90h4M350.60 174.23V194.39M348.60 174.23h4M348.60 194.39h4M419.30 152.63V168.47M417.30 152.63h4M417.30 168.47h4" stroke="#333" stroke-width="1.1" fill="none"/>
<path d="M282.30 198.32L285.45 204.72L279.15 204.72Z" fill="#fff" stroke="#111" stroke-width="1.1"/>
<path d="M350.60 180.61L353.75 187.01L347.45 187.01Z" fill="#fff" stroke="#111" stroke-width="1.1"/>
<path d="M419.30 156.85L422.45 163.25L416.15 163.25Z" fill="#fff" stroke="#111" stroke-width="1.1"/>
<rect x="278.80" y="122.20" width="7.0" height="7.0" fill="#fff" stroke="#111" stroke-width="1.2"/>
<rect x="347.10" y="96.57" width="7.0" height="7.0" fill="#fff" stroke="#111" stroke-width="1.2"/>
<rect x="415.80" y="78.57" width="7.0" height="7.0" fill="#fff" stroke="#111" stroke-width="1.2"/>
<path d="M282.30 185.46L286.10 189.06L282.30 192.66L278.50 189.06Z" fill="#000"/>
<path d="M350.60 149.03L354.40 152.63L350.60 156.23L346.80 152.63Z" fill="#000"/>
<path d="M419.30 77.17L423.10 80.77L419.30 84.37L415.50 80.77Z" fill="#000"/>
<text x="282.6" y="118.5" font-size="15.5" font-weight="bold" text-anchor="middle">*</text>
<text x="350.9" y="91.9" font-size="15.5" font-weight="bold" text-anchor="middle">*</text>
<rect x="412.6" y="99.4" width="106.7" height="43.0" fill="#fff" stroke="#333" stroke-width="1.1"/>
<rect x="418.50" y="106.10" width="5.2" height="5.2" fill="#fff" stroke="#111" stroke-width="1.2"/>
<path d="M421.35 118.60L425.10 122.20L421.35 125.80L417.60 122.20Z" fill="#000"/>
<path d="M421.15 132.30L423.75 136.90L418.55 136.90Z" fill="#fff" stroke="#111" stroke-width="1.1"/>
<text y="111.9" font-size="10.3" font-weight="bold"><tspan x="429.6">CD44</tspan><tspan x="456.0" font-size="6.9" dy="-3.1" letter-spacing="0.25">act</tspan><tspan x="469.9" dy="3.1" letter-spacing="0.4">positive</tspan></text>
<text y="124.7" font-size="10.3" font-weight="bold"><tspan x="429.6">CD44</tspan><tspan x="456.0" font-size="6.9" dy="-3.1" letter-spacing="0.25">act</tspan><tspan x="469.9" dy="3.1" letter-spacing="0.4">negative</tspan></text>
<text x="429.6" y="137.9" font-size="10.3" font-weight="bold" letter-spacing="0.2">Unactivated</text>
<text x="0.6" y="18" font-size="25" font-weight="bold">A</text>
<text x="217" y="18" font-size="25" font-weight="bold">B</text>
<text transform="translate(13.9,145.05) rotate(-90)" font-size="18" font-weight="bold" text-anchor="middle">CD44</text>
<text x="112.4" y="291.8" font-size="17.4" font-weight="bold" text-anchor="middle">Fl-HA</text>
<text x="134.2" y="248.2" font-size="10.5" font-weight="bold">+</text>
<g transform="translate(140.10,249.20) scale(1.0,1)"><path transform="translate(31.66,0) scale(0.01500,-0.01500)" d="M409 0L272 0L272 516C222 469 163 434 95 412L95 536C131 548 170 569 212 602C254 635 283 673 298 716L409 716Z"/><text x="0.00 10.83 23.32" y="0" font-size="15" font-weight="bold">KM8</text></g>
</svg>
</body></html>
